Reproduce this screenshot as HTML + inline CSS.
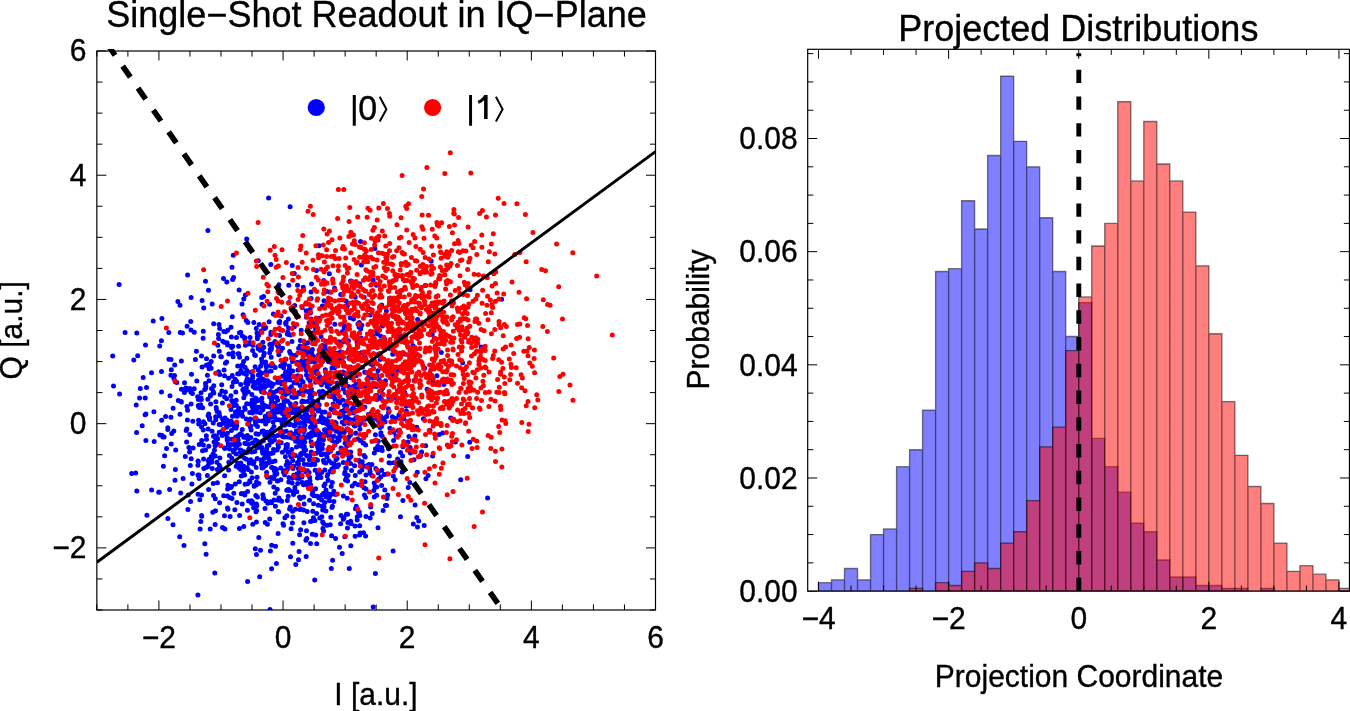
<!DOCTYPE html><html><head><meta charset="utf-8"><style>html,body{margin:0;padding:0;background:#fff;}svg{display:block;will-change:transform}text{font-family:"Liberation Sans",sans-serif;fill:#000;stroke:#000;stroke-width:0.35px}</style></head><body><svg width="1350" height="711" viewBox="0 0 1350 711"><rect width="1350" height="711" fill="#fff"/><defs><clipPath id="cl"><rect x="96.85" y="51.0" width="558.65" height="559.0"/></clipPath><clipPath id="cr"><rect x="807.7" y="49.3" width="541.75" height="541.85"/></clipPath><clipPath id="cd"><rect x="96.85" y="49.1" width="558.65" height="560.9"/></clipPath></defs><g clip-path="url(#cl)"><path d="M218.6 338.6h0M303.8 417.0h0M347.0 406.3h0M214.8 573.0h0M298.3 441.9h0M335.6 373.9h0M242.6 416.2h0M213.2 483.6h0M282.9 363.2h0M240.2 434.1h0M396.1 435.9h0M314.5 362.3h0M253.1 386.5h0M189.8 434.6h0M299.7 409.6h0M351.2 377.8h0M287.9 466.5h0M232.0 267.2h0M213.2 453.7h0M347.1 310.1h0M355.4 369.8h0M326.0 349.9h0M347.9 522.4h0M318.0 411.1h0M267.3 463.3h0M222.7 430.6h0M289.4 368.8h0M256.8 505.7h0M234.3 444.4h0M254.6 354.8h0M389.2 348.4h0M281.1 431.2h0M353.5 319.1h0M263.4 440.8h0M277.7 382.4h0M267.6 380.7h0M285.7 376.2h0M163.4 466.2h0M300.8 443.2h0M262.0 304.3h0M175.7 450.0h0M277.3 481.0h0M322.9 528.6h0M282.9 382.3h0M377.5 334.1h0M204.8 543.8h0M307.4 410.1h0M390.0 463.0h0M206.3 435.8h0M304.0 401.6h0M256.2 407.0h0M381.2 398.8h0M188.2 495.1h0M318.8 354.4h0M256.8 410.2h0M311.1 375.7h0M298.5 559.7h0M286.6 377.5h0M250.2 403.8h0M317.8 401.0h0M312.8 355.8h0M238.8 374.1h0M161.9 318.5h0M231.6 347.5h0M246.2 452.8h0M321.5 384.8h0M247.5 452.2h0M210.5 395.0h0M240.7 384.4h0M232.7 346.2h0M283.2 432.0h0M131.7 473.6h0M372.8 335.9h0M261.5 359.0h0M295.6 441.3h0M258.1 420.7h0M320.9 477.4h0M369.0 401.5h0M353.9 403.9h0M243.8 298.9h0M331.0 356.9h0M315.1 426.3h0M306.2 310.8h0M346.8 401.6h0M265.7 423.4h0M311.5 422.6h0M264.0 385.3h0M364.1 455.6h0M239.4 528.6h0M264.1 380.7h0M258.0 399.7h0M333.7 467.8h0M135.7 473.1h0M219.6 415.9h0M221.9 390.9h0M333.2 404.0h0M168.8 332.5h0M248.2 469.6h0M260.4 447.4h0M256.0 433.8h0M337.1 357.9h0M323.0 422.8h0M293.1 491.6h0M389.9 428.2h0M324.8 502.4h0M259.5 383.8h0M206.5 358.7h0M267.0 455.6h0M347.0 428.9h0M333.0 424.0h0M332.0 367.9h0M209.1 368.8h0M245.3 394.2h0M283.3 365.3h0M230.8 487.5h0M254.1 486.2h0M337.3 466.7h0M380.0 427.6h0M248.7 444.4h0M278.8 354.7h0M287.3 446.8h0M278.2 500.2h0M355.9 433.2h0M318.3 435.6h0M307.2 511.4h0M290.3 507.1h0M319.7 452.1h0M215.6 416.8h0M349.3 568.5h0M346.2 478.3h0M347.1 451.8h0M321.7 437.5h0M267.3 419.7h0M296.3 431.0h0M276.3 419.4h0M187.9 509.4h0M382.2 450.4h0M292.7 371.0h0M212.8 512.2h0M309.9 406.8h0M409.8 482.4h0M328.4 361.4h0M283.1 423.3h0M310.6 521.6h0M213.7 323.7h0M244.9 443.3h0M228.6 470.1h0M377.8 420.3h0M243.5 373.3h0M254.2 485.6h0M258.7 335.2h0M193.1 448.1h0M244.7 394.1h0M341.0 448.1h0M252.8 524.2h0M327.0 457.1h0M330.2 524.7h0M261.6 448.3h0M314.4 406.6h0M389.4 455.9h0M322.1 505.9h0M264.6 387.6h0M300.7 455.0h0M294.4 425.1h0M376.5 285.2h0M252.8 345.2h0M304.9 409.1h0M283.3 394.6h0M301.6 389.6h0M246.9 370.6h0M323.4 493.4h0M277.3 489.3h0M236.4 424.6h0M382.2 436.3h0M271.6 545.2h0M349.0 444.7h0M312.8 400.9h0M303.1 470.0h0M310.5 543.4h0M305.9 361.0h0M294.3 426.0h0M328.4 421.7h0M341.2 411.5h0M271.2 357.2h0M406.1 406.1h0M322.4 306.1h0M293.4 412.6h0M455.4 442.0h0M187.1 326.3h0M239.3 481.7h0M363.1 386.1h0M232.9 352.8h0M252.2 381.3h0M238.7 408.3h0M275.8 397.3h0M311.3 436.3h0M338.9 345.1h0M198.7 423.9h0M288.4 319.0h0M213.5 495.6h0M306.0 391.3h0M344.2 432.5h0M243.8 526.4h0M342.2 553.4h0M198.5 406.2h0M345.6 379.8h0M393.7 432.2h0M275.1 468.4h0M379.2 379.5h0M262.5 410.1h0M280.3 428.5h0M304.3 446.3h0M272.4 411.3h0M225.7 423.5h0M232.2 376.3h0M366.0 475.1h0M309.1 472.4h0M318.5 431.9h0M258.8 483.6h0M388.4 412.4h0M235.8 426.5h0M333.7 422.4h0M247.1 379.0h0M201.6 515.6h0M329.4 273.8h0M330.5 451.3h0M145.9 440.4h0M282.4 413.4h0M310.9 427.1h0M310.5 427.2h0M386.4 311.1h0M170.0 395.7h0M301.5 443.5h0M267.2 381.0h0M244.8 495.1h0M304.7 442.1h0M198.3 399.5h0M286.2 431.3h0M227.2 440.0h0M228.8 353.9h0M351.5 470.6h0M282.6 420.1h0M237.5 463.0h0M265.6 465.6h0M314.3 426.9h0M227.9 485.2h0M208.5 364.6h0M269.8 344.4h0M315.7 535.1h0M304.4 430.2h0M243.5 470.9h0M262.1 432.2h0M270.3 349.3h0M222.9 419.4h0M304.6 483.8h0M381.4 426.5h0M337.1 382.9h0M382.6 394.5h0M238.3 414.0h0M187.6 274.9h0M436.9 375.8h0M309.3 421.0h0M357.2 519.9h0M347.6 454.5h0M275.0 460.9h0M302.0 476.9h0M244.9 452.1h0M171.7 433.5h0M319.6 376.5h0M280.7 410.7h0M300.0 345.9h0M354.2 425.6h0M346.8 421.5h0M192.8 421.2h0M327.8 424.7h0M298.6 348.2h0M289.4 490.6h0M285.5 400.5h0M271.6 435.0h0M357.6 339.4h0M309.7 455.9h0M258.5 407.6h0M319.4 439.2h0M198.6 420.3h0M379.8 422.0h0M262.9 494.7h0M271.5 347.8h0M235.8 392.0h0M239.4 332.7h0M188.9 447.5h0M269.7 352.7h0M231.4 430.5h0M198.3 405.4h0M269.7 519.1h0M305.9 437.4h0M308.4 378.6h0M292.2 483.1h0M273.9 414.6h0M312.8 511.2h0M268.1 421.0h0M292.7 460.6h0M322.7 391.3h0M178.3 400.6h0M394.0 378.3h0M284.6 425.3h0M258.3 260.7h0M346.9 410.0h0M291.2 456.9h0M231.3 421.3h0M224.6 423.3h0M270.3 501.7h0M190.7 321.6h0M246.7 239.0h0M310.5 417.3h0M119.6 394.1h0M277.7 480.9h0M161.4 340.8h0M254.8 402.2h0M265.9 371.6h0M327.2 386.6h0M224.5 515.7h0M310.2 380.3h0M312.4 349.4h0M306.0 419.1h0M310.0 380.7h0M264.3 353.2h0M394.6 418.8h0M246.4 419.0h0M380.9 416.5h0M242.5 364.8h0M281.8 383.9h0M246.3 436.5h0M425.7 445.7h0M271.6 386.4h0M339.1 343.9h0M256.2 467.4h0M167.9 518.5h0M257.4 497.0h0M358.3 404.5h0M255.4 422.2h0M354.6 465.8h0M344.6 473.8h0M180.0 305.3h0M249.4 420.5h0M168.9 359.3h0M376.1 317.5h0M299.6 497.1h0M318.0 444.4h0M375.4 434.8h0M423.4 418.8h0M332.0 507.5h0M299.8 509.5h0M312.3 534.3h0M325.4 382.6h0M350.9 392.8h0M346.9 406.5h0M347.3 498.2h0M414.9 436.1h0M372.7 378.0h0M247.0 467.7h0M210.4 395.9h0M337.3 430.8h0M412.8 355.0h0M377.8 446.3h0M256.4 504.1h0M283.6 431.9h0M324.8 469.9h0M311.1 464.8h0M202.5 450.8h0M296.9 382.9h0M196.8 381.1h0M231.9 439.2h0M397.9 369.2h0M318.1 379.2h0M253.5 463.9h0M387.6 495.0h0M201.5 495.1h0M298.0 412.2h0M309.5 500.2h0M381.8 447.4h0M233.8 493.2h0M279.5 419.9h0M249.7 412.4h0M333.8 491.2h0M260.9 460.0h0M241.6 434.5h0M204.9 423.8h0M321.1 336.4h0M350.1 395.3h0M250.7 459.8h0M242.2 470.4h0M291.4 386.7h0M227.7 330.2h0M365.6 536.1h0M242.3 336.1h0M315.1 470.2h0M337.7 391.0h0M348.0 441.5h0M324.0 506.8h0M420.7 455.4h0M287.5 393.5h0M257.3 407.8h0M219.3 351.2h0M371.4 413.1h0M248.6 501.1h0M348.8 357.7h0M349.5 397.5h0M260.7 441.9h0M298.2 464.0h0M379.9 397.7h0M245.4 294.9h0M215.5 510.8h0M364.2 297.3h0M309.1 486.2h0M285.4 373.4h0M256.2 328.6h0M343.4 495.9h0M376.6 487.1h0M207.9 230.5h0M262.1 349.4h0M481.1 346.9h0M215.8 419.7h0M325.7 463.0h0M272.4 429.2h0M314.7 464.4h0M277.2 378.7h0M277.7 400.3h0M181.4 401.9h0M212.1 458.6h0M373.2 607.1h0M340.4 351.7h0M300.7 365.7h0M357.0 342.1h0M343.2 519.2h0M278.7 512.1h0M305.3 415.7h0M414.2 380.6h0M189.8 388.4h0M337.8 389.8h0M222.1 435.4h0M351.1 391.8h0M215.3 435.8h0M312.6 459.6h0M257.5 426.4h0M276.4 563.4h0M287.3 461.6h0M345.0 472.0h0M247.0 452.4h0M245.7 382.9h0M343.9 518.0h0M293.5 494.5h0M344.0 380.6h0M341.2 412.2h0M263.6 498.1h0M249.9 481.9h0M414.0 459.7h0M213.5 436.3h0M361.1 352.8h0M355.1 536.2h0M237.3 416.3h0M255.1 366.8h0M366.5 392.5h0M246.0 437.3h0M360.1 532.9h0M329.0 460.8h0M290.1 206.8h0M219.0 324.4h0M388.3 408.7h0M347.6 481.1h0M191.1 404.1h0M244.6 393.8h0M314.9 520.4h0M298.5 464.1h0M296.9 478.3h0M355.4 367.4h0M266.3 454.6h0M246.3 436.0h0M173.1 408.2h0M256.6 419.4h0M224.3 434.3h0M223.1 423.3h0M255.8 495.5h0M267.2 406.5h0M311.2 452.0h0M215.7 440.7h0M296.4 447.0h0M329.6 389.1h0M416.8 517.4h0M285.7 377.3h0M243.5 475.2h0M334.2 464.3h0M321.8 394.8h0M286.0 324.2h0M261.6 373.3h0M208.2 465.2h0M247.6 581.4h0M284.2 381.7h0M235.4 412.1h0M377.6 412.1h0M262.1 431.2h0M368.5 377.0h0M265.6 362.1h0M287.8 401.3h0M180.0 414.2h0M383.0 318.5h0M295.8 564.5h0M427.1 389.3h0M283.6 525.2h0M358.8 410.2h0M246.4 381.4h0M361.2 338.0h0M290.5 455.8h0M263.1 348.0h0M295.9 438.2h0M396.7 398.8h0M374.8 248.6h0M136.8 333.1h0M242.8 389.7h0M268.7 434.5h0M360.5 241.6h0M375.9 395.4h0M313.0 335.1h0M430.0 430.3h0M378.0 527.7h0M374.3 496.9h0M145.9 414.1h0M322.3 345.6h0M219.2 424.4h0M201.6 427.1h0M376.2 386.5h0M276.8 473.8h0M290.6 412.8h0M316.6 513.5h0M261.9 398.2h0M266.3 437.4h0M219.6 502.8h0M331.6 463.1h0M259.1 324.5h0M328.1 378.3h0M240.6 469.5h0M253.7 383.3h0M294.6 382.8h0M327.0 525.2h0M303.2 428.5h0M316.2 459.5h0M214.5 449.9h0M313.9 416.1h0M142.2 425.7h0M275.0 341.4h0M246.9 344.2h0M381.6 389.8h0M288.7 392.7h0M286.3 446.2h0M255.5 397.9h0M361.4 264.9h0M457.8 309.4h0M273.4 313.9h0M249.2 463.3h0M418.7 521.0h0M331.6 535.8h0M303.8 366.6h0M356.1 392.5h0M272.4 344.0h0M298.3 468.6h0M361.3 422.8h0M257.9 346.5h0M315.6 422.2h0M355.9 384.0h0M419.3 303.5h0M286.7 490.2h0M203.8 468.5h0M330.8 328.8h0M256.5 388.3h0M350.8 421.4h0M253.0 443.1h0M352.6 408.2h0M191.1 297.5h0M335.1 399.3h0M204.7 389.5h0M159.3 492.3h0M258.3 375.1h0M271.1 430.9h0M229.4 455.6h0M257.4 338.7h0M398.9 414.9h0M322.5 358.5h0M307.9 456.3h0M340.2 361.6h0M373.8 490.5h0M249.4 379.9h0M298.5 392.9h0M274.4 436.4h0M143.2 377.5h0M217.8 373.1h0M184.4 392.5h0M370.0 473.2h0M275.5 546.2h0M439.2 434.6h0M331.5 409.5h0M346.3 468.1h0M283.5 472.3h0M299.5 436.6h0M293.8 397.5h0M405.4 362.0h0M151.5 372.8h0M315.9 367.2h0M303.5 484.8h0M286.1 322.3h0M350.5 366.9h0M231.8 444.6h0M328.9 384.2h0M186.8 429.1h0M309.6 352.2h0M349.2 458.6h0M227.1 438.2h0M173.8 431.1h0M328.1 452.7h0M256.4 554.5h0M329.7 427.1h0M213.8 385.8h0M325.1 346.1h0M377.2 395.4h0M252.7 412.0h0M376.7 495.3h0M281.2 442.7h0M209.6 364.3h0M322.1 495.1h0M353.1 386.5h0M199.3 423.6h0M383.9 418.3h0M241.2 475.9h0M290.4 334.9h0M326.6 454.0h0M209.0 380.8h0M211.1 368.3h0M286.1 445.0h0M413.3 524.1h0M323.4 460.4h0M267.3 477.2h0M325.9 379.7h0M226.6 361.9h0M271.7 398.3h0M375.8 468.4h0M331.0 409.0h0M410.2 358.8h0M201.7 440.5h0M363.9 466.0h0M359.7 471.9h0M234.8 509.8h0M278.5 346.9h0M299.8 408.6h0M303.9 522.8h0M240.8 463.1h0M286.3 450.0h0M327.8 382.4h0M273.2 384.3h0M290.5 556.8h0M260.5 550.2h0M338.0 453.2h0M279.4 322.9h0M296.0 355.2h0M171.3 369.8h0M161.5 391.9h0M245.2 409.3h0M410.1 447.5h0M269.7 396.7h0M329.2 416.0h0M279.5 410.9h0M289.4 366.1h0M284.6 474.7h0M307.4 329.7h0M294.4 326.8h0M329.0 428.2h0M269.5 462.1h0M340.4 436.5h0M359.3 512.0h0M254.9 418.5h0M269.8 440.0h0M374.3 386.1h0M370.0 471.3h0M304.1 504.0h0M341.8 332.2h0M231.9 458.2h0M246.4 374.6h0M318.3 505.2h0M339.6 433.3h0M154.2 441.4h0M252.6 350.4h0M321.9 397.1h0M212.2 303.9h0M265.2 522.4h0M254.0 461.8h0M228.3 444.9h0M258.2 370.1h0M223.7 495.7h0M292.8 543.2h0M133.8 360.1h0M400.5 516.8h0M303.8 447.6h0M158.7 492.2h0M312.2 423.1h0M313.3 489.7h0M201.0 398.0h0M336.0 425.8h0M372.4 414.2h0M393.6 440.4h0M217.4 469.4h0M359.0 327.1h0M240.9 370.6h0M310.6 484.7h0M244.7 339.0h0M145.2 398.1h0M300.5 446.0h0M378.2 449.8h0M300.8 376.5h0M145.1 414.8h0M248.9 344.0h0M313.0 453.6h0M271.6 502.7h0M487.6 498.0h0M137.7 355.7h0M254.8 451.5h0M294.7 305.6h0M262.7 453.2h0M359.5 425.1h0M186.6 442.0h0M278.9 497.9h0M274.5 440.1h0M322.5 419.5h0M215.9 401.8h0M265.3 452.0h0M345.3 392.4h0M213.7 356.1h0M247.4 510.2h0M321.7 434.5h0M266.7 433.0h0M370.8 364.1h0M227.5 496.0h0M398.3 430.6h0M311.2 319.1h0M304.0 449.1h0M186.9 406.4h0M207.6 466.8h0M319.3 420.4h0M356.2 375.8h0M299.9 423.2h0M299.1 477.8h0M210.2 528.9h0M310.0 361.7h0M295.6 407.9h0M325.7 419.8h0M336.9 429.2h0M260.3 412.8h0M375.0 486.6h0M197.7 396.8h0M324.0 462.3h0M200.8 521.6h0M364.0 487.8h0M279.5 499.2h0M356.1 410.6h0M303.8 496.9h0M238.0 444.3h0M252.3 501.6h0M410.4 453.0h0M258.8 537.4h0M435.4 306.4h0M343.7 366.0h0M201.3 399.4h0M252.5 378.2h0M199.8 499.7h0M308.6 434.4h0M208.6 489.6h0M283.5 404.9h0M310.4 359.4h0M333.9 436.2h0M245.9 437.5h0M348.1 461.4h0M307.4 470.7h0M215.3 498.7h0M371.9 475.4h0M301.8 402.1h0M350.5 372.8h0M251.1 372.2h0M269.5 407.0h0M333.9 501.5h0M342.2 373.7h0M289.0 477.4h0M228.6 378.2h0M312.1 333.1h0M388.6 448.7h0M261.0 406.7h0M288.0 452.3h0M384.2 474.5h0M271.8 400.5h0M220.8 356.7h0M224.1 369.9h0M244.9 337.7h0M322.3 448.8h0M308.1 421.1h0M151.6 489.9h0M256.7 411.9h0M265.0 508.6h0M227.6 438.3h0M433.1 381.3h0M369.0 464.5h0M383.0 386.9h0M246.4 459.3h0M330.1 471.3h0M295.4 455.6h0M330.2 383.7h0M363.1 443.1h0M184.5 382.7h0M393.1 551.0h0M293.4 434.9h0M355.6 433.3h0M173.9 378.6h0M323.7 280.6h0M207.4 375.2h0M345.1 418.2h0M375.5 448.7h0M248.7 424.2h0M205.7 388.2h0M343.0 414.9h0M293.7 475.2h0M301.9 452.9h0M288.5 327.9h0M366.2 361.7h0M302.4 400.9h0M257.2 400.8h0M263.8 347.3h0M303.6 453.2h0M164.6 455.8h0M255.2 383.4h0M162.2 435.6h0M248.3 391.7h0M303.7 437.0h0M212.3 468.6h0M366.0 489.1h0M327.2 476.1h0M387.0 473.9h0M289.6 509.0h0M320.4 447.5h0M227.4 433.3h0M279.7 321.6h0M318.8 497.8h0M267.3 445.8h0M295.4 509.2h0M268.4 462.9h0M319.4 475.2h0M255.5 440.0h0M341.6 357.3h0M381.6 485.4h0M224.6 475.7h0M306.3 482.4h0M298.0 369.9h0M247.9 384.0h0M388.9 397.3h0M314.7 580.0h0M380.9 432.8h0M300.6 453.9h0M347.7 393.6h0M275.2 493.2h0M332.3 482.4h0M254.9 388.0h0M263.1 498.6h0M343.3 462.5h0M417.6 319.6h0M335.0 444.6h0M273.2 477.8h0M203.4 444.9h0M232.4 416.2h0M285.7 448.9h0M271.3 453.4h0M306.5 350.9h0M310.2 309.5h0M260.3 387.6h0M311.1 396.0h0M169.6 489.4h0M278.2 511.6h0M287.3 500.6h0M250.7 426.1h0M303.7 432.2h0M187.6 410.3h0M290.9 405.9h0M227.5 507.9h0M291.8 449.6h0M417.5 526.9h0M248.1 439.3h0M269.1 321.7h0M501.6 299.3h0M305.9 540.3h0M321.6 500.1h0M327.3 352.0h0M314.4 430.7h0M246.8 436.1h0M311.2 433.0h0M292.4 522.9h0M198.3 461.6h0M207.8 399.2h0M311.5 284.0h0M293.3 391.4h0M402.9 500.6h0M216.9 462.3h0M203.6 459.1h0M306.9 414.7h0M343.4 389.1h0M290.2 403.8h0M261.6 391.8h0M338.2 401.3h0M309.5 392.7h0M270.5 344.3h0M262.0 362.5h0M274.6 403.4h0M233.5 452.0h0M287.4 334.3h0M334.5 352.7h0M266.6 472.5h0M238.1 353.8h0M222.8 341.3h0M370.2 517.9h0M268.2 453.1h0M392.8 316.0h0M330.8 362.3h0M273.8 392.6h0M240.7 456.2h0M419.0 336.7h0M194.2 388.8h0M217.6 438.8h0M402.8 322.8h0M187.4 420.0h0M136.6 432.5h0M267.2 432.3h0M265.7 327.6h0M256.1 485.0h0M262.4 451.3h0M392.4 416.7h0M329.5 500.8h0M288.5 414.2h0M227.9 509.2h0M164.1 437.0h0M290.6 424.2h0M300.1 385.6h0M267.4 524.2h0M378.0 370.8h0M261.5 464.4h0M224.9 529.1h0M350.5 463.6h0M315.6 382.3h0M325.9 511.1h0M180.7 493.1h0M202.6 407.8h0M257.0 447.7h0M226.6 398.8h0M283.6 436.4h0M293.3 434.4h0M308.5 418.4h0M357.3 516.7h0M329.0 498.0h0M318.2 448.9h0M292.0 341.5h0M332.5 472.1h0M378.8 479.0h0M231.3 346.2h0M274.3 407.2h0M245.2 367.6h0M336.4 376.8h0M285.8 417.8h0M441.3 352.5h0M125.1 332.5h0M219.7 328.6h0M233.8 405.7h0M165.6 416.6h0M365.6 386.2h0M176.8 382.5h0M281.1 316.0h0M140.3 388.4h0M259.8 444.5h0M341.2 414.8h0M203.7 308.0h0M344.2 327.9h0M345.9 326.1h0M362.2 461.8h0M406.4 410.9h0M146.9 515.3h0M334.5 411.8h0M299.6 534.7h0M359.5 283.8h0M325.9 392.9h0M232.6 279.5h0M276.8 390.9h0M233.4 382.2h0M224.5 375.8h0M343.1 341.8h0M264.6 405.4h0M145.5 345.0h0M213.2 423.1h0M245.4 345.3h0M386.6 505.5h0M319.2 404.8h0M283.7 368.0h0M233.1 356.7h0M321.8 516.8h0M269.0 416.0h0M319.8 518.0h0M316.4 373.4h0M187.9 388.8h0M337.1 458.4h0M295.8 403.4h0M198.0 494.2h0M367.3 398.9h0M247.8 342.9h0M355.8 418.0h0M318.9 245.7h0M385.4 505.6h0M311.9 445.7h0M186.4 390.0h0M322.0 412.2h0M237.4 445.5h0M215.2 456.0h0M243.8 397.8h0M326.0 490.0h0M365.2 457.1h0M270.5 391.6h0M268.8 458.7h0M226.5 427.3h0M246.7 403.7h0M408.9 436.6h0M205.8 386.2h0M290.0 373.0h0M270.0 609.5h0M390.4 331.2h0M257.0 440.9h0M424.7 368.3h0M301.2 441.7h0M313.5 404.6h0M336.1 431.2h0M181.4 389.2h0M271.2 383.3h0M270.4 371.0h0M236.2 400.2h0M348.7 437.2h0M252.8 408.4h0M241.3 493.8h0M332.6 560.3h0M136.8 491.0h0M276.8 397.7h0M337.3 353.3h0M283.3 389.6h0M268.4 457.7h0M312.6 491.9h0M341.4 384.6h0M307.8 366.2h0M201.7 516.3h0M360.0 418.2h0M391.9 375.7h0M404.5 353.9h0M211.5 461.6h0M306.4 317.2h0M280.8 405.3h0M335.1 289.9h0M278.1 533.6h0M318.1 408.4h0M263.7 326.8h0M359.8 515.4h0M265.2 419.0h0M321.7 378.6h0M349.8 376.4h0M266.4 366.9h0M181.4 361.1h0M469.7 442.2h0M300.4 498.5h0M272.5 430.3h0M190.3 465.6h0M282.1 419.7h0M277.3 410.5h0M421.6 452.0h0M368.2 418.2h0M314.1 414.9h0M356.3 506.2h0M273.0 453.1h0M383.1 510.4h0M332.4 506.3h0M271.2 349.6h0M424.2 525.6h0M221.7 384.8h0M302.3 482.4h0M302.4 423.2h0M350.7 452.0h0M280.8 468.0h0M313.5 333.5h0M373.0 365.6h0M250.8 437.5h0M214.0 442.1h0M284.1 402.3h0M278.7 411.9h0M261.9 447.5h0M216.2 407.6h0M228.2 443.4h0M341.3 448.7h0M313.6 503.8h0M296.2 376.7h0M257.2 458.4h0M278.9 284.8h0M197.9 595.0h0M224.2 342.2h0M402.1 472.0h0M201.5 356.0h0M275.0 475.3h0M373.1 280.0h0M288.0 489.6h0M365.6 445.0h0M294.9 487.6h0M377.1 375.4h0M333.3 429.1h0M302.4 389.9h0M329.8 496.1h0M273.8 487.1h0M339.3 341.8h0M263.0 409.0h0M297.8 375.8h0M333.4 357.3h0M316.2 340.1h0M266.4 434.2h0M390.9 397.9h0M282.5 348.2h0M317.1 368.9h0M241.9 412.3h0M212.3 388.9h0M250.3 427.1h0M306.3 370.5h0M307.5 401.4h0M226.8 281.9h0M186.2 430.4h0M386.6 416.6h0M249.7 249.2h0M231.0 327.3h0M318.5 435.6h0M272.2 467.6h0M219.2 413.2h0M316.3 453.2h0M251.7 503.3h0M199.1 478.4h0M277.3 345.6h0M320.4 354.0h0M348.9 423.3h0M344.1 424.1h0M303.6 510.1h0M333.7 395.9h0M320.5 395.0h0M408.2 487.4h0M175.4 469.4h0M353.7 361.3h0M376.3 331.1h0M232.3 375.5h0M358.2 365.9h0M467.7 456.6h0M285.8 390.7h0M285.4 456.7h0M306.5 530.7h0M159.7 346.1h0M260.2 350.3h0M337.8 437.7h0M364.5 495.0h0M200.7 404.7h0M300.4 439.6h0M289.5 391.5h0M161.5 371.4h0M358.5 511.9h0M380.8 435.0h0M284.4 419.9h0M339.7 403.1h0M325.0 434.5h0M280.6 366.0h0M203.5 421.8h0M282.4 452.3h0M359.3 322.6h0M385.5 380.8h0M290.5 353.5h0M443.9 384.6h0M112.7 356.0h0M364.7 372.2h0M255.2 421.1h0M338.6 464.8h0M393.7 396.8h0M325.0 484.1h0M272.3 461.7h0M305.0 418.4h0M359.9 429.2h0M346.2 375.7h0M203.2 429.9h0M361.9 325.3h0M289.8 380.0h0M470.1 289.7h0M312.1 432.2h0M240.7 449.9h0M247.6 483.7h0M380.7 476.9h0M384.8 490.1h0M223.9 331.6h0M245.5 443.4h0M303.3 287.2h0M173.0 524.7h0M304.4 415.4h0M232.9 402.1h0M276.8 412.0h0M334.4 412.4h0M256.1 411.0h0M397.4 465.4h0M288.2 496.2h0M280.8 330.1h0M208.1 415.7h0M312.9 520.8h0M208.8 446.3h0M343.5 453.0h0M431.2 261.1h0M315.6 488.8h0M224.4 448.1h0M205.5 383.4h0M305.0 390.7h0M381.9 419.2h0M279.4 389.1h0M300.4 340.4h0M309.9 480.7h0M395.1 479.7h0M252.5 413.1h0M351.2 523.7h0M347.4 305.7h0M241.5 493.6h0M311.8 376.4h0M297.5 285.3h0M320.8 347.3h0M179.7 536.7h0M243.8 437.3h0M227.1 342.7h0M334.2 387.9h0M218.6 371.8h0M361.3 484.7h0M364.8 419.3h0M225.5 331.7h0M355.6 410.5h0M432.2 334.5h0M328.1 493.7h0M309.3 437.3h0M219.0 412.4h0M299.2 478.6h0M350.5 435.0h0M250.0 342.4h0M221.4 356.7h0M298.6 392.5h0M315.7 434.3h0M261.4 331.0h0M202.1 367.0h0M302.4 365.4h0M270.9 477.6h0M282.6 436.5h0M324.0 300.7h0M293.5 493.4h0M239.4 444.2h0M287.7 375.9h0M359.1 460.6h0M275.2 367.5h0M304.8 343.9h0M317.4 478.1h0M198.0 461.1h0M266.6 435.2h0M175.3 381.7h0M287.4 413.7h0M271.9 441.8h0M260.5 441.9h0M235.3 484.0h0M365.0 481.8h0M296.7 491.7h0M272.5 394.8h0M236.1 454.1h0M235.1 443.7h0M287.7 332.0h0M307.7 485.5h0M289.2 437.3h0M353.7 419.8h0M320.6 421.6h0M119.1 284.4h0M212.1 431.3h0M353.6 413.1h0M341.7 359.2h0M372.2 345.2h0M309.7 477.5h0M330.8 517.3h0M220.1 394.4h0M389.0 462.8h0M396.1 373.2h0M283.0 523.8h0M234.6 424.0h0M294.8 412.5h0M315.6 329.3h0M284.6 416.1h0M248.7 449.2h0M273.1 422.0h0M265.6 463.6h0M243.6 361.4h0M311.4 389.2h0M345.1 443.3h0M270.8 334.4h0M380.8 336.2h0M294.0 382.5h0M341.1 515.5h0M313.6 463.4h0M256.0 511.8h0M344.9 450.2h0M346.2 301.2h0M355.0 403.8h0M336.1 423.2h0M231.5 486.5h0M303.0 459.8h0M340.6 523.8h0M253.2 411.8h0M316.1 443.8h0M255.6 424.5h0M312.2 494.5h0M275.4 506.2h0M183.1 478.4h0M305.5 412.5h0M287.9 371.4h0M305.7 450.1h0M346.7 446.1h0M181.2 401.6h0M324.3 380.3h0M278.4 446.9h0M378.1 472.8h0M417.3 472.3h0M331.1 396.6h0M243.8 466.2h0M297.2 362.3h0M260.6 366.2h0M345.7 467.9h0M294.3 273.4h0M219.7 374.6h0M308.0 378.0h0M216.3 436.0h0M206.2 365.3h0M329.2 378.1h0M312.7 393.3h0M235.0 415.7h0M281.6 501.2h0M295.9 420.7h0M334.8 398.6h0M328.9 433.4h0M323.7 454.0h0M240.2 452.0h0M462.6 362.8h0M303.9 430.4h0M227.6 489.1h0M292.3 265.6h0M331.4 436.8h0M396.4 277.4h0M296.7 476.5h0M251.4 500.8h0M224.6 397.0h0M340.0 372.5h0M364.2 401.1h0M246.2 320.6h0M252.1 477.8h0M266.0 501.0h0M286.2 465.0h0M319.3 391.7h0M235.7 437.1h0M270.8 264.4h0M236.5 337.5h0M326.3 373.2h0M292.4 361.4h0M278.5 345.3h0M259.7 576.7h0M234.3 427.4h0M177.9 301.4h0M234.2 449.8h0M304.3 464.2h0M289.0 302.6h0M297.0 417.1h0M231.4 337.0h0M136.2 405.0h0M244.7 407.6h0M213.4 391.9h0M247.8 322.6h0M355.5 508.7h0M412.8 345.4h0M279.4 410.9h0M374.8 418.3h0M297.7 483.5h0M282.6 376.3h0M360.3 440.6h0M334.4 367.9h0M328.1 480.2h0M203.1 338.3h0M260.0 375.4h0M400.4 335.2h0M254.7 411.4h0M153.9 411.8h0M252.3 442.9h0M376.9 399.5h0M306.5 375.0h0M225.0 418.0h0M449.9 446.2h0M302.2 307.4h0M349.0 430.3h0M284.9 517.8h0M243.5 451.6h0M198.0 474.9h0M161.6 420.3h0M324.9 411.9h0M348.6 386.6h0M343.5 362.4h0M298.2 433.6h0M317.5 460.2h0M345.3 410.9h0M392.6 370.6h0M316.4 324.9h0M274.7 417.0h0M335.1 424.5h0M339.5 547.3h0M284.0 437.1h0M381.7 305.1h0M322.6 361.4h0M344.9 307.3h0M299.2 457.5h0M207.4 475.4h0M370.1 315.1h0M313.4 517.7h0M229.9 425.0h0M219.3 465.3h0M311.3 338.7h0M262.1 402.3h0M271.1 371.1h0M215.1 524.5h0M223.5 278.5h0M351.1 422.7h0M371.9 464.6h0M302.2 438.0h0M288.8 482.1h0M162.9 437.1h0M290.4 375.8h0M329.2 435.9h0M244.0 493.4h0M393.3 476.0h0M260.8 389.6h0M211.3 456.6h0M360.2 462.5h0M264.4 392.5h0M275.6 449.9h0M209.6 419.6h0M262.1 468.1h0M232.0 386.6h0M239.6 515.6h0M323.5 418.5h0M364.8 407.0h0M290.7 432.7h0M268.3 413.7h0M300.6 529.7h0M265.6 424.0h0M298.4 475.4h0M367.6 396.0h0M209.1 459.2h0M243.6 390.8h0M262.6 379.1h0M343.7 410.4h0M175.0 480.2h0M287.1 415.8h0M198.9 475.1h0M287.4 469.2h0M255.4 355.4h0M202.1 300.6h0M377.8 354.5h0M317.5 446.8h0M416.7 427.3h0M146.5 387.4h0M244.6 475.1h0M289.2 424.4h0M277.2 449.9h0M352.2 486.0h0M252.7 375.9h0M307.7 330.5h0M227.6 345.0h0M270.0 482.2h0M305.9 471.8h0M398.9 335.7h0M312.8 432.0h0M307.1 314.5h0M282.7 411.4h0M316.7 543.8h0M340.7 294.4h0M324.5 429.8h0M268.9 445.2h0M296.3 397.0h0M253.6 507.7h0M306.5 316.0h0M197.9 465.2h0M311.6 402.7h0M342.9 371.9h0M362.6 367.3h0M237.7 373.7h0M262.2 380.3h0M257.1 477.2h0M299.4 460.0h0M344.2 372.7h0M260.9 388.8h0M314.7 434.8h0M374.2 482.9h0M243.1 314.7h0M235.2 379.3h0M232.3 316.8h0M286.0 359.3h0M351.4 376.6h0M276.0 473.3h0M113.5 386.1h0M326.7 424.0h0M394.0 462.7h0M227.1 420.1h0M289.6 351.5h0M370.7 506.9h0M217.1 411.5h0M404.7 392.4h0M342.5 324.0h0M284.3 418.1h0M348.7 349.4h0M300.5 508.7h0M321.8 412.0h0M384.8 346.0h0M387.0 498.5h0M170.9 375.3h0M240.6 366.1h0M333.6 410.0h0M269.4 438.4h0M167.8 429.4h0M273.9 426.5h0M317.6 473.5h0M270.9 332.2h0M285.0 393.3h0M215.1 445.8h0M290.2 424.4h0M274.0 499.9h0M269.6 304.3h0M385.1 421.7h0M292.9 468.5h0M264.8 328.4h0M365.6 435.2h0M374.3 453.1h0M191.9 484.0h0M353.8 388.6h0M305.8 409.5h0M251.9 451.9h0M402.6 456.0h0M274.3 470.7h0M359.7 525.8h0M262.8 342.2h0M321.5 349.6h0M312.1 357.9h0M307.7 342.8h0M321.4 454.7h0M319.2 443.1h0M224.8 448.6h0M254.8 382.4h0M336.8 441.8h0M298.9 365.1h0M311.1 441.7h0M191.5 374.2h0M325.3 369.8h0M286.8 515.8h0M184.0 545.5h0M211.5 388.6h0M392.7 354.2h0M265.2 416.2h0M211.2 361.6h0M271.7 393.5h0M291.7 376.4h0M203.3 331.2h0M291.0 409.6h0M310.1 358.6h0M328.0 493.7h0M383.9 384.9h0M167.8 427.8h0M217.4 482.8h0M267.0 434.2h0M190.9 392.2h0M218.4 334.6h0M249.8 480.7h0M261.7 462.0h0M326.8 291.6h0M233.8 425.3h0M238.6 346.2h0M240.7 467.7h0M361.9 470.0h0M190.6 501.5h0M419.8 456.6h0M230.1 516.5h0M293.4 355.5h0M228.5 421.6h0M331.8 469.0h0M432.6 455.9h0M273.7 478.4h0M191.2 458.7h0M282.2 436.0h0M222.6 418.9h0M236.7 381.4h0M233.3 255.3h0M263.4 431.0h0M171.0 359.4h0M192.4 393.5h0M402.5 340.6h0M351.1 456.5h0M313.0 361.3h0M442.8 433.1h0M318.8 440.7h0M284.2 470.7h0M355.3 475.6h0M256.6 510.4h0M309.8 397.4h0M195.4 359.5h0M284.0 407.6h0M233.6 277.6h0M350.8 545.8h0M345.7 382.8h0M327.7 357.3h0M293.8 436.4h0M271.6 568.8h0M402.9 446.7h0M408.1 442.1h0M415.1 505.0h0M242.3 429.5h0M282.1 423.5h0M335.0 422.3h0M348.5 340.7h0M306.4 420.7h0M208.1 428.9h0M257.4 336.8h0M295.2 425.3h0M303.0 382.1h0M406.0 365.0h0M339.6 417.0h0M243.4 389.1h0M311.1 291.9h0M284.9 395.3h0M256.4 522.1h0M288.4 376.4h0M327.8 420.9h0M380.1 359.4h0M238.8 353.7h0M180.3 332.5h0M378.2 344.2h0M220.3 467.7h0M287.2 446.7h0M238.6 467.2h0M267.1 385.4h0M196.4 351.2h0M347.6 514.2h0M267.5 419.5h0M321.3 416.7h0M252.2 400.0h0M237.7 411.0h0M318.6 409.0h0M210.6 404.1h0M335.6 538.5h0M297.3 376.1h0M208.3 460.7h0M251.9 394.4h0M279.3 409.1h0M229.6 449.0h0M301.4 380.2h0M279.6 335.4h0M236.7 426.1h0M236.8 442.5h0M350.7 521.3h0M382.5 326.1h0M271.3 403.0h0M257.0 332.9h0M170.9 417.2h0M323.5 439.7h0M194.3 332.2h0M280.6 350.8h0M335.0 376.0h0M358.1 484.8h0M238.2 440.0h0M217.8 444.2h0M258.2 434.2h0M342.2 422.2h0M211.6 456.9h0M330.4 299.5h0M301.2 330.3h0M276.4 405.4h0M319.0 440.3h0M341.5 448.3h0M310.5 313.0h0M219.2 432.2h0M255.3 548.7h0M404.9 310.6h0M139.6 398.1h0M344.4 405.4h0M339.1 440.3h0M357.9 324.1h0M223.3 421.6h0M285.4 380.7h0M305.1 363.3h0M192.4 473.5h0M316.4 270.5h0M460.7 479.7h0M269.6 382.5h0M365.7 497.4h0M321.7 472.5h0M209.4 418.3h0M326.9 435.2h0M357.4 345.2h0M350.6 281.1h0M313.8 462.6h0M304.3 428.9h0M259.0 447.2h0M232.0 498.5h0M253.9 322.6h0M348.0 475.6h0M303.1 391.7h0M185.3 456.4h0M272.0 412.0h0M371.8 417.0h0M334.6 288.3h0M397.6 459.1h0M433.1 382.1h0M242.2 503.9h0M345.5 449.6h0M346.2 406.4h0M247.6 491.4h0M311.6 352.5h0M159.8 435.1h0M350.2 317.8h0M367.4 465.4h0M342.8 431.1h0M322.6 444.5h0M270.4 349.8h0M347.5 528.1h0M316.9 357.0h0M174.7 365.1h0M259.8 372.1h0M280.2 382.0h0M336.4 356.3h0M287.7 436.9h0M205.9 467.5h0M189.6 451.9h0M347.0 417.0h0M288.8 285.2h0M332.6 355.1h0M230.9 395.8h0M268.3 435.2h0M306.2 348.1h0M450.7 418.0h0M220.5 424.8h0M277.7 435.4h0M272.6 397.5h0M236.2 466.3h0M400.5 452.5h0M266.7 449.1h0M335.9 459.8h0M217.8 345.2h0M354.0 304.7h0M357.6 439.1h0M325.1 429.8h0M214.5 436.7h0M307.9 464.4h0M200.1 529.1h0M351.8 409.5h0M314.2 408.5h0M302.7 349.5h0M263.2 467.6h0M298.1 438.8h0M182.5 332.9h0M297.2 412.8h0M331.0 353.4h0M240.7 332.2h0M299.6 444.1h0M273.4 366.1h0M323.6 523.4h0M262.0 420.9h0M270.4 551.0h0M284.5 391.5h0M332.2 440.6h0M331.2 486.6h0M306.6 455.4h0M199.3 407.6h0M236.1 428.3h0M306.2 556.4h0M291.1 454.1h0M264.3 406.1h0M285.0 364.3h0M365.2 356.7h0M263.9 458.4h0M300.2 416.5h0M319.9 356.2h0M284.1 375.5h0M389.5 298.3h0M309.9 391.1h0M291.8 397.1h0M236.7 447.7h0M318.7 472.2h0M306.8 538.5h0M363.8 443.3h0M329.9 291.9h0M305.5 449.7h0M306.8 354.2h0M209.7 417.8h0M372.2 513.5h0M299.8 427.9h0M319.0 318.2h0M265.9 365.3h0M312.7 322.2h0M276.4 469.8h0M360.6 385.4h0M271.6 467.5h0M306.1 437.2h0M310.6 395.5h0M323.6 531.1h0M334.1 394.7h0M166.5 448.6h0M171.2 443.9h0M344.8 536.8h0M322.9 421.9h0M285.6 393.1h0M303.2 418.4h0M298.9 422.0h0M237.9 436.4h0M269.0 418.5h0M279.0 322.3h0M379.5 316.1h0M324.0 485.8h0M368.3 414.6h0M297.5 462.5h0M369.9 309.2h0M322.7 522.1h0M316.8 408.6h0M268.6 198.0h0M355.4 355.4h0M265.1 457.5h0M304.0 438.8h0M244.6 458.2h0M311.6 396.5h0M291.1 528.7h0M287.4 444.5h0M250.1 337.6h0M288.6 489.6h0M314.0 495.8h0M332.5 448.2h0M279.0 292.9h0M264.8 435.4h0M327.8 474.5h0M239.6 357.3h0M375.4 573.4h0M225.4 363.2h0M285.5 372.4h0M364.2 384.5h0M250.3 419.1h0M270.9 397.3h0M346.4 514.2h0M246.9 358.3h0M292.4 438.3h0M334.8 324.2h0M382.9 387.7h0M261.4 330.9h0M274.8 470.6h0M309.1 322.7h0M263.7 355.4h0M311.0 359.7h0M292.6 511.3h0M231.7 400.5h0M280.8 479.7h0M337.7 388.2h0M206.1 554.2h0M213.8 392.9h0M256.5 482.0h0M267.0 372.7h0M326.2 430.8h0M304.8 425.3h0M258.2 348.7h0M237.7 366.1h0M271.5 417.0h0M206.5 439.2h0M292.3 478.0h0M263.6 296.6h0M285.5 323.3h0M199.2 444.4h0M297.0 473.8h0M309.4 459.8h0M348.6 396.2h0M322.7 509.9h0M369.6 468.5h0M277.8 411.2h0M425.9 478.8h0M333.9 404.8h0M342.5 331.4h0M205.5 449.9h0M228.8 462.3h0M273.5 449.5h0M331.4 494.2h0M293.7 465.9h0M284.0 399.9h0M395.6 418.4h0M354.4 405.5h0M381.7 470.3h0M261.7 297.4h0M292.9 517.1h0M335.5 494.5h0M380.1 356.2h0M222.5 527.6h0M251.1 430.0h0M354.9 483.3h0M313.1 371.0h0M191.0 330.1h0M425.7 285.4h0M238.3 435.6h0M289.5 464.1h0M258.5 380.0h0M360.7 328.9h0M325.7 341.3h0M270.4 365.5h0M242.0 304.1h0M355.2 297.1h0M373.5 417.0h0M239.7 468.2h0M239.1 290.0h0M284.7 473.4h0M317.4 496.3h0M229.6 497.6h0M352.4 373.2h0M330.7 353.7h0M251.4 472.0h0M278.6 419.7h0M285.2 411.8h0M174.5 375.5h0M330.0 359.8h0M306.0 483.5h0M274.9 474.3h0M329.8 436.0h0M219.9 457.9h0M236.2 405.3h0M393.2 374.2h0M304.8 418.9h0M301.6 361.1h0M322.8 397.5h0M271.2 399.0h0M299.1 551.4h0M293.6 389.9h0M354.9 426.1h0M205.5 281.3h0M317.2 421.7h0M264.2 379.7h0M312.1 412.3h0M331.3 568.4h0M366.7 372.4h0M185.8 387.9h0M331.4 391.6h0M355.0 526.1h0M345.5 480.0h0M428.1 475.4h0M299.7 393.4h0M359.6 534.9h0M251.8 405.7h0M347.7 393.2h0M211.7 462.2h0M208.7 414.1h0M400.0 369.8h0M322.3 421.6h0M403.9 419.1h0M230.9 409.5h0M270.9 442.3h0M368.1 380.8h0M245.1 484.2h0M226.8 422.4h0M289.8 388.6h0M327.8 422.8h0M378.3 441.2h0M254.2 406.9h0M333.0 393.3h0M311.1 298.6h0M297.9 412.7h0M236.9 502.6h0M357.0 389.1h0M363.5 532.7h0M374.4 416.6h0M342.8 453.6h0M208.5 290.3h0M216.4 409.1h0M201.0 392.7h0M153.2 320.9h0M300.9 445.5h0M225.4 391.9h0M326.1 497.0h0M278.0 444.3h0M299.1 472.6h0M349.7 419.2h0M267.7 503.3h0M247.4 435.5h0M342.7 399.9h0M384.8 339.6h0M365.9 516.6h0M222.4 403.0h0M401.0 461.7h0M246.4 387.4h0" stroke="#0000ff" stroke-width="5.0" stroke-linecap="round" fill="none"/><path d="M458.7 243.6h0M387.5 319.0h0M329.3 314.8h0M403.9 416.1h0M444.1 300.9h0M331.1 292.3h0M374.6 319.3h0M335.3 426.7h0M357.3 262.2h0M433.9 321.1h0M342.1 361.9h0M371.5 284.6h0M282.8 339.9h0M461.9 259.9h0M378.8 207.9h0M468.8 304.1h0M379.2 322.0h0M306.8 316.7h0M366.1 338.2h0M367.7 261.7h0M370.7 355.5h0M424.7 304.4h0M457.4 265.5h0M402.5 395.9h0M423.7 269.5h0M316.1 318.0h0M412.3 284.4h0M302.1 475.3h0M400.3 412.3h0M437.4 225.0h0M379.5 391.3h0M462.2 347.1h0M453.0 491.6h0M413.8 451.9h0M354.1 259.6h0M347.0 463.6h0M344.2 291.8h0M407.9 304.2h0M303.7 290.3h0M385.6 277.8h0M443.6 392.4h0M328.5 381.1h0M398.4 494.4h0M394.9 275.0h0M404.3 297.1h0M375.7 375.3h0M375.1 240.9h0M396.1 318.8h0M381.4 406.7h0M324.1 272.1h0M376.7 322.9h0M385.9 257.4h0M345.6 334.6h0M438.2 392.8h0M462.2 329.7h0M329.1 447.2h0M390.0 298.5h0M366.9 279.0h0M412.7 350.2h0M371.6 374.7h0M301.7 306.6h0M361.6 386.9h0M387.8 316.0h0M333.5 471.5h0M451.7 337.7h0M492.6 358.5h0M335.6 357.8h0M426.9 167.4h0M453.8 375.1h0M285.3 412.3h0M327.5 266.9h0M438.2 364.7h0M462.8 370.7h0M447.8 268.2h0M453.9 209.4h0M491.3 243.9h0M424.0 238.3h0M413.0 356.7h0M425.0 285.6h0M423.1 252.6h0M266.9 284.2h0M339.9 345.1h0M378.4 318.7h0M361.7 480.9h0M310.3 312.1h0M393.9 298.0h0M462.7 410.3h0M367.9 324.6h0M370.1 384.8h0M572.9 400.2h0M410.1 362.5h0M175.0 381.1h0M414.0 429.4h0M288.5 303.1h0M360.7 247.0h0M468.5 342.1h0M441.4 314.0h0M293.2 358.7h0M344.5 249.0h0M336.1 405.3h0M400.1 309.7h0M438.5 327.0h0M434.5 466.3h0M391.7 385.1h0M374.9 416.2h0M317.6 298.7h0M509.3 359.0h0M291.8 467.1h0M317.8 328.3h0M458.2 311.6h0M459.7 252.6h0M363.4 280.2h0M396.4 462.6h0M475.7 346.1h0M327.8 449.6h0M352.1 282.7h0M403.2 279.5h0M377.9 278.1h0M403.2 307.1h0M433.9 421.7h0M401.9 368.7h0M408.3 385.5h0M428.5 215.3h0M312.5 412.8h0M379.2 330.4h0M464.2 378.5h0M372.0 411.3h0M386.8 369.2h0M422.9 229.3h0M319.1 321.2h0M352.3 499.9h0M369.5 492.1h0M488.1 435.4h0M460.1 420.7h0M408.6 379.9h0M337.3 494.0h0M368.9 388.3h0M234.4 439.9h0M342.8 363.3h0M341.8 299.8h0M236.4 253.0h0M363.6 437.9h0M323.6 283.7h0M465.6 318.7h0M422.1 214.9h0M337.0 361.9h0M486.4 217.0h0M421.1 289.8h0M352.9 368.3h0M301.2 333.8h0M432.0 273.6h0M390.4 298.1h0M344.5 333.8h0M389.3 304.6h0M384.8 370.9h0M322.4 360.2h0M372.4 360.6h0M453.7 213.2h0M395.2 468.3h0M407.6 366.1h0M446.9 317.1h0M368.2 352.4h0M362.7 340.2h0M293.4 376.5h0M413.1 336.5h0M374.7 295.5h0M348.8 268.1h0M276.8 342.7h0M474.0 390.2h0M429.8 432.2h0M440.6 252.1h0M450.8 445.7h0M364.6 304.0h0M412.6 388.9h0M425.0 544.7h0M420.0 273.8h0M393.3 301.4h0M363.1 289.6h0M478.9 364.4h0M420.9 265.9h0M471.2 245.3h0M367.4 334.1h0M433.7 424.6h0M310.0 327.0h0M422.5 292.8h0M416.6 270.2h0M365.2 401.1h0M274.3 246.6h0M427.4 410.1h0M417.7 322.9h0M372.9 290.6h0M412.5 325.9h0M355.6 401.8h0M435.3 438.3h0M370.3 276.7h0M403.0 352.5h0M456.5 439.8h0M400.4 357.5h0M347.6 428.8h0M502.9 368.5h0M318.5 366.5h0M396.6 319.0h0M354.5 373.6h0M382.3 231.1h0M339.6 383.4h0M367.1 467.3h0M490.4 300.0h0M350.8 252.8h0M203.6 269.7h0M319.2 470.0h0M408.0 328.2h0M438.1 309.8h0M360.1 434.5h0M466.4 366.7h0M423.9 329.7h0M504.0 203.4h0M397.7 355.2h0M460.3 318.9h0M356.1 281.6h0M400.5 356.2h0M482.4 210.6h0M353.9 288.3h0M428.7 333.7h0M425.5 434.6h0M395.9 337.1h0M550.1 305.3h0M365.4 277.8h0M532.9 232.4h0M319.6 308.8h0M343.1 246.5h0M381.8 322.7h0M409.8 355.1h0M474.2 372.9h0M408.5 203.8h0M389.3 411.2h0M448.4 366.5h0M451.2 380.3h0M432.3 394.0h0M389.3 323.4h0M452.5 433.4h0M399.6 332.2h0M314.7 378.2h0M411.0 328.3h0M448.5 446.7h0M469.2 381.7h0M461.9 341.9h0M458.6 217.5h0M384.3 286.0h0M412.2 317.9h0M442.1 361.8h0M411.2 324.8h0M296.1 378.8h0M433.6 313.0h0M353.7 374.7h0M344.6 321.3h0M445.0 382.0h0M371.4 238.2h0M434.2 330.4h0M400.6 387.1h0M510.9 364.2h0M547.6 304.5h0M338.4 391.0h0M443.1 371.8h0M440.4 311.3h0M393.6 445.9h0M412.4 439.2h0M346.5 374.1h0M360.1 286.4h0M411.4 341.6h0M478.8 323.2h0M365.8 395.5h0M392.5 257.3h0M341.1 450.6h0M463.0 318.7h0M340.4 324.2h0M416.0 333.8h0M287.5 391.3h0M258.1 222.6h0M447.5 324.2h0M384.3 438.9h0M417.8 336.3h0M385.6 314.6h0M447.3 444.9h0M489.2 391.9h0M297.6 419.6h0M377.0 342.0h0M331.1 354.7h0M449.1 254.5h0M329.7 348.5h0M320.6 365.1h0M359.9 409.8h0M347.4 401.5h0M402.0 290.2h0M374.3 398.0h0M316.8 320.5h0M482.5 511.9h0M410.7 314.2h0M461.0 339.7h0M311.8 409.9h0M339.7 346.4h0M278.9 315.3h0M474.2 340.5h0M393.1 371.0h0M384.3 405.4h0M405.9 280.5h0M367.9 208.3h0M375.8 377.9h0M437.5 303.7h0M485.1 366.9h0M361.6 343.1h0M166.4 327.9h0M392.9 280.8h0M418.6 360.8h0M386.0 307.8h0M411.3 361.6h0M399.6 430.0h0M498.7 359.7h0M349.4 396.6h0M411.7 300.1h0M348.9 395.8h0M521.6 387.7h0M354.4 315.7h0M380.9 381.7h0M429.0 259.0h0M389.5 250.8h0M499.1 324.7h0M363.5 318.3h0M268.4 286.1h0M356.8 423.1h0M474.1 526.6h0M350.3 348.2h0M474.1 274.2h0M360.9 247.6h0M397.8 322.8h0M458.1 240.5h0M353.6 352.5h0M338.9 300.3h0M418.9 303.0h0M391.8 314.2h0M392.5 381.8h0M236.6 422.1h0M390.0 432.5h0M435.4 435.8h0M500.8 409.4h0M420.3 455.3h0M400.2 419.1h0M361.3 418.6h0M411.8 337.2h0M340.5 345.1h0M426.0 270.6h0M483.8 375.3h0M483.4 276.1h0M388.0 363.9h0M294.3 476.3h0M340.9 345.0h0M355.9 369.1h0M393.0 350.5h0M361.4 407.1h0M350.8 430.9h0M444.4 401.6h0M440.8 252.5h0M468.8 340.6h0M426.3 309.6h0M381.8 297.1h0M468.7 431.3h0M348.7 367.1h0M444.2 394.0h0M365.9 358.7h0M395.1 274.3h0M570.0 384.9h0M396.2 374.5h0M528.0 355.7h0M442.7 371.8h0M434.8 302.4h0M504.4 324.6h0M220.8 445.8h0M430.9 274.3h0M357.8 312.0h0M463.2 374.4h0M335.2 258.4h0M499.7 432.6h0M366.0 291.3h0M343.5 277.1h0M421.2 375.5h0M454.5 243.7h0M331.3 340.2h0M421.2 272.5h0M354.4 308.5h0M430.7 370.0h0M408.9 360.9h0M415.6 295.5h0M407.4 345.9h0M385.5 269.6h0M391.9 309.5h0M334.2 357.4h0M398.1 297.3h0M453.4 383.5h0M354.7 338.4h0M409.8 369.1h0M437.6 397.9h0M499.0 392.6h0M336.8 308.0h0M477.2 369.7h0M410.5 420.3h0M382.0 253.3h0M311.7 358.6h0M336.7 331.2h0M434.2 368.9h0M536.7 394.7h0M370.4 340.4h0M384.7 236.0h0M408.3 264.6h0M419.3 330.7h0M468.0 319.9h0M332.6 280.2h0M465.9 392.2h0M375.1 283.4h0M415.7 475.2h0M407.2 421.4h0M482.9 381.2h0M400.8 329.5h0M343.1 280.7h0M311.1 487.5h0M372.9 259.1h0M392.2 344.3h0M472.4 407.8h0M428.6 396.1h0M326.7 404.6h0M441.1 425.5h0M445.5 382.1h0M410.9 500.3h0M487.3 277.7h0M338.3 270.5h0M336.8 342.6h0M347.4 273.0h0M432.0 303.0h0M464.3 400.2h0M447.1 425.4h0M381.2 307.6h0M372.8 347.2h0M457.2 328.0h0M362.8 297.1h0M417.5 410.8h0M323.8 228.9h0M473.3 439.2h0M374.6 244.9h0M303.8 340.9h0M334.6 301.0h0M291.4 358.1h0M485.4 392.6h0M343.6 285.9h0M343.8 340.0h0M445.8 401.8h0M403.7 441.4h0M407.1 274.4h0M342.8 352.6h0M313.9 419.9h0M403.0 391.7h0M485.2 360.5h0M364.9 351.9h0M467.2 328.1h0M324.6 308.3h0M440.0 343.8h0M403.9 373.0h0M389.7 285.0h0M453.6 455.7h0M380.5 294.4h0M278.1 300.9h0M468.1 283.6h0M408.3 496.4h0M435.1 308.0h0M385.9 369.4h0M414.4 278.7h0M401.0 237.3h0M412.5 395.8h0M480.8 368.1h0M446.9 370.6h0M404.7 334.6h0M488.0 319.7h0M279.4 378.0h0M263.3 392.6h0M377.2 363.7h0M411.5 302.1h0M358.6 303.3h0M306.0 302.7h0M516.2 367.8h0M388.7 291.5h0M356.8 396.2h0M324.5 284.2h0M346.1 336.6h0M315.2 344.1h0M413.1 234.6h0M471.5 356.0h0M335.8 341.2h0M310.4 206.2h0M440.4 267.0h0M505.6 347.0h0M366.7 314.8h0M348.9 289.7h0M322.2 534.8h0M440.7 335.2h0M490.9 399.3h0M491.2 437.2h0M275.1 329.3h0M438.8 392.7h0M406.6 414.2h0M295.3 311.3h0M350.3 432.5h0M330.3 299.5h0M371.5 340.0h0M368.6 415.2h0M420.0 313.9h0M409.1 413.9h0M488.9 406.6h0M300.9 246.0h0M415.0 347.4h0M303.0 395.0h0M359.5 385.0h0M336.5 413.0h0M429.3 377.5h0M372.8 342.6h0M446.6 265.1h0M320.0 382.8h0M394.2 378.4h0M439.6 275.5h0M223.3 429.2h0M322.2 255.7h0M269.6 414.4h0M482.1 303.3h0M376.0 439.9h0M353.4 235.0h0M432.3 229.2h0M562.5 318.9h0M354.9 411.8h0M341.1 306.5h0M380.2 386.5h0M453.3 331.2h0M435.4 284.7h0M372.5 359.2h0M492.6 307.6h0M372.2 309.9h0M358.2 391.1h0M405.9 413.1h0M386.4 401.6h0M316.5 325.4h0M519.0 292.3h0M469.9 258.8h0M395.5 394.5h0M417.0 310.8h0M321.0 346.2h0M365.0 352.8h0M532.3 366.2h0M346.2 366.5h0M353.0 395.7h0M337.7 394.0h0M494.8 254.0h0M359.6 257.2h0M294.6 404.9h0M332.9 265.8h0M350.6 403.2h0M346.3 310.0h0M437.6 343.8h0M465.6 422.7h0M412.3 323.8h0M375.2 399.0h0M285.3 387.0h0M406.1 363.3h0M373.5 398.6h0M529.3 347.4h0M463.3 399.0h0M440.4 302.0h0M364.9 424.4h0M346.7 352.5h0M517.5 383.3h0M446.5 283.7h0M404.5 280.7h0M354.2 353.3h0M346.8 288.4h0M437.3 422.4h0M394.6 309.2h0M378.0 411.8h0M412.4 363.2h0M370.2 370.5h0M406.2 340.7h0M278.4 265.9h0M406.4 309.1h0M373.1 409.6h0M396.6 379.0h0M322.8 378.5h0M390.2 368.4h0M422.2 298.1h0M421.7 196.5h0M493.7 273.8h0M423.6 368.4h0M410.9 351.2h0M474.7 341.5h0M302.2 262.3h0M412.3 400.5h0M335.5 250.4h0M341.7 283.7h0M401.9 399.1h0M380.2 289.4h0M301.5 437.5h0M453.5 420.2h0M451.6 250.4h0M332.7 363.7h0M403.5 404.0h0M373.1 340.7h0M469.3 403.9h0M350.8 352.7h0M302.8 235.4h0M334.7 289.8h0M388.3 290.7h0M379.2 285.2h0M352.5 244.0h0M381.9 387.9h0M303.4 356.4h0M393.8 256.5h0M314.4 289.3h0M310.2 488.4h0M402.0 409.7h0M367.0 270.8h0M368.7 279.4h0M378.9 419.9h0M397.9 397.9h0M315.9 245.7h0M345.4 385.8h0M310.6 371.1h0M429.5 350.9h0M451.6 361.0h0M461.9 445.1h0M411.4 460.3h0M316.6 291.5h0M396.2 445.9h0M390.3 377.9h0M494.7 351.1h0M324.7 281.4h0M407.3 354.7h0M269.1 393.9h0M412.3 386.2h0M447.3 378.9h0M432.0 412.0h0M285.1 359.1h0M358.2 365.4h0M316.9 381.6h0M392.2 361.5h0M293.3 334.2h0M417.5 354.5h0M495.8 272.1h0M319.1 360.7h0M490.8 448.4h0M259.7 345.1h0M477.8 343.3h0M342.0 429.1h0M404.1 367.7h0M357.2 369.2h0M399.5 385.3h0M479.6 213.6h0M393.9 395.3h0M437.8 302.0h0M383.6 345.0h0M411.0 460.6h0M312.9 260.2h0M384.9 345.1h0M429.9 347.8h0M460.0 275.7h0M300.0 376.3h0M310.2 386.4h0M282.8 330.4h0M496.8 392.3h0M436.1 297.1h0M363.9 344.0h0M328.2 301.0h0M414.2 353.0h0M275.0 255.3h0M329.0 396.3h0M358.4 353.6h0M373.9 324.0h0M519.6 337.2h0M409.5 422.7h0M449.4 360.5h0M302.6 429.9h0M459.8 293.3h0M391.6 323.2h0M475.9 378.0h0M298.0 352.8h0M412.3 450.5h0M326.6 256.5h0M399.0 357.1h0M435.0 346.2h0M432.2 367.0h0M436.6 316.7h0M385.7 270.6h0M388.5 474.1h0M442.4 379.7h0M293.3 323.4h0M334.8 339.3h0M338.4 189.5h0M357.6 366.9h0M480.5 356.8h0M324.3 289.9h0M341.3 485.0h0M359.7 450.6h0M300.5 468.2h0M441.9 314.3h0M501.9 449.0h0M385.5 366.0h0M324.0 436.2h0M487.6 296.2h0M412.0 372.0h0M229.4 405.7h0M500.6 327.7h0M407.2 478.6h0M291.0 308.1h0M307.9 362.4h0M516.9 203.7h0M431.7 246.2h0M387.6 375.3h0M491.3 312.8h0M440.6 275.7h0M279.2 328.2h0M352.8 353.8h0M344.0 317.4h0M545.5 270.7h0M403.4 322.4h0M333.2 377.5h0M348.8 369.7h0M416.1 440.6h0M474.6 241.4h0M344.0 317.0h0M373.1 476.3h0M347.4 392.3h0M460.5 334.8h0M351.9 336.1h0M478.9 360.9h0M419.8 387.6h0M453.3 302.7h0M476.6 398.5h0M572.8 252.8h0M409.9 326.8h0M443.4 331.5h0M396.0 340.7h0M433.1 425.9h0M358.3 291.5h0M323.7 293.6h0M403.2 364.1h0M314.9 393.7h0M495.5 283.6h0M449.4 226.5h0M326.3 352.7h0M510.6 374.4h0M454.5 225.0h0M340.3 355.9h0M445.6 380.5h0M425.8 347.9h0M351.4 395.7h0M344.4 306.6h0M414.9 237.9h0M368.6 431.2h0M511.4 367.6h0M347.2 268.5h0M371.3 249.6h0M393.3 303.4h0M442.9 463.1h0M301.5 369.2h0M327.1 234.1h0M462.1 307.4h0M384.8 350.1h0M409.2 401.5h0M444.4 336.7h0M372.3 297.5h0M407.4 381.2h0M401.5 423.4h0M447.6 280.4h0M349.9 445.0h0M313.6 459.4h0M323.7 281.6h0M355.6 284.1h0M402.7 394.6h0M475.9 337.8h0M389.7 243.5h0M446.4 432.5h0M256.6 266.5h0M439.2 447.8h0M470.0 386.4h0M435.0 482.9h0M368.6 362.2h0M429.4 468.7h0M374.3 338.4h0M433.4 255.0h0M405.9 336.2h0M383.4 203.4h0M478.5 274.7h0M360.7 420.3h0M428.7 312.6h0M547.4 331.5h0M361.4 485.6h0M383.7 338.3h0M442.5 381.4h0M324.3 359.3h0M255.3 310.3h0M308.4 488.5h0M413.5 393.4h0M504.3 376.9h0M340.6 316.9h0M350.7 359.3h0M359.5 374.2h0M446.5 390.5h0M541.7 269.5h0M344.2 365.8h0M298.4 316.8h0M317.9 356.7h0M255.6 417.8h0M361.0 403.9h0M406.7 230.0h0M381.1 289.5h0M397.3 437.2h0M409.2 312.8h0M286.3 262.4h0M281.7 302.3h0M596.7 275.9h0M329.7 322.5h0M383.4 497.0h0M296.8 317.0h0M318.5 332.7h0M433.4 406.1h0M367.7 372.5h0M337.6 311.5h0M384.1 253.9h0M308.8 356.6h0M407.7 376.7h0M316.7 406.0h0M275.6 315.5h0M305.5 303.9h0M343.5 357.1h0M435.0 338.3h0M360.3 466.0h0M404.3 305.4h0M338.9 307.8h0M359.7 333.1h0M311.5 370.5h0M497.1 293.1h0M325.1 330.3h0M435.9 283.5h0M369.0 401.4h0M543.3 299.8h0M442.6 320.6h0M410.0 405.8h0M372.8 398.8h0M362.5 257.3h0M442.8 303.3h0M356.9 336.3h0M415.9 362.2h0M331.0 450.1h0M336.6 354.3h0M420.6 336.3h0M433.8 361.2h0M421.0 385.0h0M388.5 327.0h0M418.6 402.4h0M383.9 384.8h0M558.7 286.7h0M433.7 314.0h0M428.2 334.0h0M324.5 354.5h0M421.5 335.8h0M311.8 373.4h0M461.2 388.6h0M356.8 313.9h0M448.2 380.5h0M323.5 395.3h0M436.0 319.2h0M414.6 357.4h0M263.8 324.4h0M522.4 378.1h0M446.6 404.2h0M373.0 296.9h0M333.6 392.0h0M320.7 352.9h0M370.7 504.5h0M421.7 394.9h0M377.0 260.0h0M465.0 310.4h0M527.5 325.6h0M355.9 460.0h0M298.0 267.6h0M318.5 257.8h0M340.3 372.3h0M484.1 330.7h0M503.2 335.7h0M364.2 249.2h0M426.5 296.3h0M480.9 388.1h0M405.5 329.3h0M365.8 434.6h0M389.6 342.7h0M424.7 373.6h0M377.4 480.5h0M401.0 217.8h0M358.3 359.4h0M380.5 316.4h0M408.4 381.2h0M477.6 392.3h0M388.5 395.2h0M386.0 364.9h0M329.4 230.9h0M509.8 379.8h0M345.4 338.3h0M534.4 350.1h0M380.1 353.3h0M331.3 256.5h0M343.8 189.6h0M370.2 340.9h0M449.3 336.4h0M440.7 407.9h0M413.7 400.9h0M486.9 305.3h0M362.0 384.3h0M444.9 320.8h0M356.1 403.5h0M425.1 323.6h0M442.7 317.4h0M397.9 317.1h0M245.5 341.9h0M370.8 284.9h0M318.4 254.7h0M373.2 382.9h0M328.3 380.4h0M495.4 301.2h0M357.2 417.0h0M415.7 337.1h0M397.5 338.7h0M331.0 313.5h0M279.1 441.8h0M353.8 380.3h0M452.4 232.7h0M372.0 386.9h0M347.9 312.3h0M443.0 408.6h0M411.0 281.7h0M353.1 390.4h0M364.9 290.9h0M337.6 218.6h0M353.3 302.3h0M316.9 430.0h0M392.8 270.8h0M312.4 418.4h0M371.0 321.3h0M436.6 418.5h0M338.3 377.3h0M326.0 314.9h0M448.4 280.9h0M383.3 368.5h0M453.5 302.7h0M392.0 304.0h0M457.4 421.7h0M363.7 434.2h0M364.4 242.8h0M372.9 272.6h0M359.4 333.1h0M327.1 283.0h0M433.4 397.8h0M310.7 384.6h0M370.5 331.2h0M349.6 413.6h0M438.6 278.7h0M472.6 408.0h0M413.7 365.1h0M470.9 388.3h0M381.8 319.5h0M431.9 391.6h0M492.0 304.4h0M428.5 325.8h0M393.6 335.8h0M359.8 420.1h0M501.6 362.3h0M433.3 319.3h0M429.4 317.1h0M412.5 413.0h0M409.2 275.5h0M439.7 448.6h0M372.0 302.6h0M513.7 353.6h0M524.2 317.8h0M390.5 298.8h0M382.4 423.2h0M339.8 238.1h0M444.7 254.6h0M359.4 246.9h0M414.2 309.5h0M392.3 347.8h0M302.1 389.3h0M349.8 207.6h0M412.8 278.2h0M288.6 416.0h0M376.5 238.0h0M359.7 357.2h0M379.2 415.4h0M534.6 372.8h0M448.6 381.6h0M395.1 380.2h0M367.7 306.1h0M328.2 341.0h0M442.2 270.5h0M347.7 313.1h0M348.8 236.4h0M307.9 474.8h0M407.0 318.1h0M355.4 357.1h0M415.1 452.1h0M499.3 387.2h0M310.6 370.8h0M360.6 339.3h0M263.9 324.5h0M397.2 402.4h0M324.4 261.9h0M256.3 261.1h0M405.6 380.5h0M332.2 313.0h0M435.3 322.3h0M494.8 329.4h0M396.0 279.8h0M348.6 290.7h0M429.9 412.0h0M409.1 323.3h0M463.8 306.0h0M429.0 307.1h0M414.6 439.5h0M368.6 279.0h0M420.3 313.1h0M477.8 339.3h0M451.7 300.7h0M435.8 351.7h0M403.2 253.9h0M351.6 310.3h0M393.8 331.6h0M407.4 450.2h0M221.2 306.5h0M406.7 208.6h0M354.0 332.7h0M378.7 557.9h0M383.6 385.9h0M399.1 380.4h0M451.6 320.1h0M411.5 395.7h0M330.1 431.9h0M312.5 343.4h0M380.1 365.9h0M348.5 325.0h0M468.6 413.4h0M332.7 279.0h0M419.7 295.9h0M355.2 244.6h0M397.9 333.1h0M367.9 346.0h0M345.0 453.9h0M312.2 325.9h0M403.7 308.4h0M332.1 318.2h0M358.0 343.9h0M464.9 369.1h0M381.8 375.5h0M485.2 350.5h0M495.5 215.0h0M372.7 423.0h0M461.4 340.7h0M440.5 392.2h0M396.8 330.4h0M215.6 373.3h0M418.3 456.7h0M373.3 360.1h0M452.7 342.2h0M410.8 367.3h0M355.8 282.7h0M371.3 345.5h0M376.9 469.9h0M411.4 257.5h0M430.6 285.1h0M521.8 422.5h0M343.7 300.0h0M458.2 322.1h0M425.7 349.1h0M404.8 288.3h0M493.3 355.4h0M361.6 358.9h0M302.1 406.7h0M449.1 407.9h0M393.8 386.9h0M313.5 269.5h0M420.3 380.4h0M473.0 301.3h0M412.8 281.1h0M398.1 275.2h0M390.5 288.0h0M465.4 423.4h0M460.6 388.2h0M330.6 305.0h0M446.8 251.7h0M308.0 326.8h0M383.9 337.3h0M417.2 373.5h0M416.7 261.0h0M441.1 361.2h0M414.8 325.6h0M273.2 332.7h0M355.0 336.2h0M354.6 314.9h0M435.8 393.2h0M434.8 236.1h0M347.1 342.6h0M407.0 445.2h0M415.8 378.8h0M451.7 436.2h0M404.9 287.2h0M365.9 269.7h0M328.3 320.1h0M373.6 323.0h0M415.9 297.5h0M427.2 376.2h0M558.8 391.5h0M394.7 287.4h0M374.5 360.7h0M339.5 396.5h0M412.5 322.4h0M276.2 267.3h0M325.3 371.7h0M402.6 391.7h0M501.8 466.9h0M499.0 321.4h0M431.5 265.8h0M349.4 325.4h0M334.7 360.5h0M375.5 396.0h0M374.1 398.7h0M455.2 324.7h0M432.4 341.4h0M342.5 456.2h0M337.2 365.4h0M296.7 364.0h0M471.1 342.7h0M409.7 317.3h0M482.6 290.2h0M417.1 360.5h0M436.0 384.5h0M367.3 310.1h0M247.6 423.9h0M281.6 341.3h0M469.7 417.4h0M358.6 355.2h0M342.8 286.9h0M393.7 471.0h0M367.4 384.2h0M412.9 407.4h0M369.3 294.4h0M407.3 342.2h0M296.8 324.5h0M441.1 258.2h0M316.5 365.4h0M452.2 441.8h0M498.2 198.3h0M390.8 264.0h0M398.0 379.9h0M431.7 375.3h0M381.4 459.9h0M468.1 226.9h0M356.4 367.0h0M386.1 347.7h0M397.5 301.2h0M431.6 400.1h0M445.6 288.9h0M459.2 330.6h0M394.1 394.6h0M303.0 357.3h0M424.6 301.2h0M407.9 427.4h0M428.7 397.6h0M373.2 303.5h0M383.2 408.0h0M354.5 439.7h0M399.2 358.8h0M450.4 281.7h0M379.6 329.9h0M300.0 368.8h0M345.4 439.0h0M422.2 325.8h0M470.0 258.3h0M485.2 346.3h0M358.9 380.7h0M309.4 299.0h0M394.6 310.8h0M397.3 390.7h0M329.5 439.1h0M525.0 390.7h0M389.8 344.0h0M353.0 374.9h0M433.3 378.6h0M374.9 440.8h0M351.1 388.9h0M440.2 408.5h0M355.4 351.2h0M330.5 342.2h0M368.0 398.5h0M339.3 305.9h0M404.8 400.2h0M330.5 337.3h0M389.1 391.6h0M429.3 334.8h0M402.8 382.5h0M334.8 411.6h0M446.2 281.6h0M408.7 404.6h0M400.2 296.8h0M409.1 242.6h0M419.7 305.8h0M366.9 379.0h0M419.7 382.9h0M314.0 367.5h0M339.6 428.1h0M420.8 361.5h0M310.6 339.0h0M445.9 364.0h0M420.3 266.2h0M382.5 347.0h0M385.8 245.9h0M492.1 286.1h0M358.8 339.1h0M528.2 431.4h0M421.8 321.9h0M452.0 398.5h0M386.8 260.1h0M534.1 358.6h0M313.8 454.0h0M433.2 453.3h0M444.8 274.8h0M383.8 359.0h0M396.5 345.0h0M511.0 345.0h0M275.1 377.8h0M351.1 492.7h0M334.6 355.7h0M400.3 290.8h0M287.3 409.5h0M386.2 322.0h0M386.8 320.5h0M393.0 488.4h0M459.0 392.5h0M454.3 214.1h0M451.8 384.6h0M354.9 396.2h0M351.3 296.6h0M355.0 368.3h0M325.1 377.0h0M354.7 349.2h0M400.5 432.6h0M379.7 297.2h0M504.8 393.8h0M423.5 189.1h0M426.4 377.5h0M471.8 337.3h0M437.9 295.8h0M422.9 365.4h0M451.0 374.8h0M467.4 286.9h0M416.2 349.2h0M352.3 333.4h0M407.4 280.5h0M465.9 251.1h0M498.7 426.5h0M268.4 338.8h0M537.8 400.0h0M414.7 401.1h0M424.5 301.3h0M366.3 251.0h0M437.9 381.9h0M505.8 423.5h0M404.5 254.1h0M440.8 338.1h0M278.0 291.7h0M430.3 325.4h0M504.8 383.6h0M371.7 290.9h0M436.2 339.0h0M428.0 392.1h0M450.3 405.9h0M298.1 299.5h0M489.4 251.7h0M439.2 385.0h0M368.8 349.3h0M330.8 329.8h0M370.1 398.2h0M528.0 401.4h0M367.7 381.7h0M395.4 316.1h0M426.5 271.9h0M374.9 326.4h0M387.4 254.3h0M377.9 355.5h0M357.7 347.2h0M463.9 413.6h0M405.2 362.0h0M386.5 317.4h0M301.6 353.1h0M443.5 379.1h0M474.9 321.6h0M392.5 264.6h0M432.7 384.5h0M459.0 288.5h0M399.1 311.2h0M359.7 408.1h0M439.6 246.5h0M401.3 265.1h0M468.0 388.6h0M467.8 332.5h0M393.9 368.7h0M416.2 398.6h0M385.6 384.4h0M446.3 334.7h0M380.1 281.6h0M469.7 391.0h0M321.4 284.3h0M413.9 347.5h0M407.9 425.9h0M381.8 368.4h0M249.8 517.7h0M460.2 321.2h0M453.1 401.0h0M432.0 316.3h0M559.8 376.6h0M253.1 371.2h0M401.0 276.0h0M519.9 252.5h0M415.3 260.7h0M400.9 371.2h0M214.4 342.9h0M328.5 242.6h0M342.5 248.6h0M469.0 404.7h0M403.6 425.7h0M296.5 380.2h0M294.6 393.4h0M442.2 340.2h0M399.0 247.7h0M434.2 338.6h0M464.3 282.3h0M393.0 379.9h0M396.6 250.7h0M462.9 250.8h0M504.5 392.5h0M387.0 256.3h0M447.8 257.2h0M337.5 406.8h0M463.1 294.6h0M444.7 339.8h0M362.6 257.3h0M477.4 295.3h0M404.2 381.4h0M415.4 308.5h0M392.3 328.7h0M412.6 330.4h0M333.8 424.1h0M380.4 305.8h0M372.3 312.2h0M422.8 264.5h0M440.3 314.7h0M322.5 316.0h0M527.0 350.9h0M411.2 403.2h0M412.8 287.6h0M477.1 447.6h0M363.4 352.0h0M453.1 316.7h0M312.2 306.1h0M493.3 233.8h0M431.3 330.6h0M413.2 299.0h0M483.4 385.7h0M280.7 392.0h0M310.7 376.8h0M244.0 316.7h0M362.8 308.5h0M462.6 314.0h0M379.3 307.2h0M272.8 405.9h0M387.0 372.7h0M390.7 400.6h0M292.2 273.5h0M468.0 307.2h0M331.5 331.5h0M465.0 408.5h0M378.4 252.8h0M357.7 217.0h0M412.4 300.2h0M416.8 285.6h0M516.6 338.5h0M372.8 331.8h0M392.4 281.6h0M432.1 359.1h0M387.9 323.1h0M476.8 254.4h0M444.2 344.3h0M336.2 360.0h0M392.4 304.9h0M450.6 342.2h0M401.4 322.2h0M334.3 445.4h0M408.8 414.0h0M363.9 417.7h0M439.1 366.3h0M403.8 400.0h0M308.3 367.3h0M356.4 262.9h0M378.1 327.4h0M443.9 360.4h0M396.0 317.3h0M429.6 365.0h0M263.2 277.3h0M282.0 249.8h0M444.9 256.2h0M317.5 340.6h0M326.8 358.9h0M330.8 299.2h0M431.5 270.1h0M361.0 295.8h0M415.9 246.4h0M405.6 262.2h0M354.3 240.8h0M402.7 445.2h0M327.5 354.5h0M412.2 429.7h0M512.0 282.1h0M366.4 363.3h0M419.9 330.6h0M350.6 355.7h0M542.8 326.6h0M470.8 173.1h0M363.9 357.1h0M336.5 426.7h0M403.6 340.6h0M526.2 261.8h0M415.0 361.5h0M332.5 382.3h0M347.9 391.8h0M321.1 269.3h0M332.0 239.7h0M395.6 352.1h0M401.8 309.7h0M446.3 371.9h0M337.8 366.0h0M411.8 309.3h0M451.0 263.5h0M267.8 291.7h0M377.9 425.4h0M429.6 378.1h0M398.8 391.7h0M514.7 254.5h0M281.0 360.2h0M387.2 322.1h0M390.2 339.5h0M398.5 317.8h0M449.9 558.8h0M309.0 357.4h0M391.0 372.0h0M334.4 348.2h0M373.0 275.5h0M435.1 358.5h0M390.3 287.0h0M469.8 326.3h0M345.1 265.4h0M416.0 376.1h0M267.1 301.3h0M357.7 509.0h0M443.7 322.3h0M333.7 405.8h0M467.4 404.5h0M282.4 397.2h0M315.2 337.9h0M385.3 341.7h0M408.0 362.9h0M373.8 267.4h0M329.6 306.0h0M287.7 343.6h0M464.8 337.3h0M340.0 414.0h0M372.1 322.6h0M420.8 334.0h0M278.1 311.9h0M428.9 389.9h0M367.5 301.3h0M412.5 426.1h0M362.8 384.0h0M445.7 340.5h0M350.9 282.0h0M495.1 400.9h0M412.1 405.4h0M450.4 294.9h0M405.8 206.2h0M396.8 367.1h0M399.4 389.2h0M282.9 277.5h0M405.8 306.7h0M264.0 306.0h0M410.6 273.2h0M445.1 317.2h0M407.7 402.9h0M393.9 310.2h0M394.6 346.3h0M304.1 469.4h0M439.5 368.9h0M439.8 329.6h0M382.9 400.9h0M400.3 320.1h0M452.7 420.5h0M370.1 210.2h0M472.8 372.3h0M443.8 312.2h0M405.5 289.1h0M399.2 328.8h0M330.5 372.6h0M476.5 351.2h0M436.0 353.3h0M348.7 351.3h0M349.2 312.7h0M401.9 399.9h0M351.3 442.8h0M310.5 321.2h0M451.8 338.8h0M446.2 321.6h0M316.3 277.2h0M414.7 328.8h0M479.5 408.0h0M338.7 333.7h0M394.8 421.4h0M368.3 416.0h0M429.6 320.5h0M310.9 319.9h0M315.4 422.2h0M503.7 293.9h0M386.7 365.3h0M334.9 373.1h0M382.4 343.1h0M351.8 235.3h0M428.7 382.2h0M366.2 390.3h0M425.3 272.2h0M375.8 266.5h0M475.6 318.9h0M302.9 346.8h0M357.1 274.6h0M419.5 343.0h0M436.3 324.1h0M298.4 364.3h0M421.9 396.9h0M473.0 247.8h0M377.5 312.8h0M392.3 371.1h0M405.3 342.7h0M323.1 340.0h0M386.9 263.6h0M336.5 372.4h0M458.4 251.8h0M367.1 217.3h0M390.8 421.9h0M480.0 409.2h0M424.7 420.5h0M364.6 259.5h0M405.7 368.9h0M381.1 357.2h0M351.4 423.0h0M424.9 472.2h0M389.4 301.5h0M429.3 292.6h0M517.5 324.6h0M359.2 392.8h0M460.8 413.4h0M502.0 419.9h0M436.5 296.4h0M319.8 319.5h0M309.3 304.4h0M458.0 354.6h0M449.2 401.0h0M356.9 410.7h0M403.3 341.7h0M300.3 249.6h0M525.4 214.5h0M378.0 240.0h0M429.9 421.1h0M371.9 441.4h0M377.1 220.0h0M526.2 405.8h0M495.4 451.3h0M377.0 385.1h0M326.6 249.8h0M406.6 265.6h0M421.4 307.7h0M346.7 409.0h0M456.5 398.6h0M405.6 313.7h0M405.6 387.4h0M392.2 420.9h0M410.9 311.9h0M481.9 247.3h0M463.4 383.6h0M306.7 315.1h0M419.8 410.7h0M467.2 313.5h0M372.9 230.2h0M534.7 407.8h0M402.1 175.6h0M266.5 375.1h0M373.7 368.6h0M418.3 430.0h0M352.0 285.7h0M377.4 347.7h0M409.3 294.8h0M436.3 356.1h0M500.6 372.0h0M441.6 222.7h0M303.9 354.3h0M370.5 391.0h0M363.5 391.9h0M396.2 360.5h0M227.5 301.1h0M376.3 345.5h0M447.5 381.6h0M375.1 383.8h0M358.2 316.0h0M434.9 286.4h0M292.7 280.2h0M452.2 374.8h0M399.3 303.0h0M461.5 404.0h0M292.0 328.6h0M420.8 408.3h0M486.0 367.9h0M431.5 393.6h0M308.0 211.2h0M292.7 306.7h0M389.4 213.4h0M367.8 257.5h0M325.0 355.9h0M401.4 418.2h0M430.7 318.9h0M433.0 320.9h0M452.1 305.9h0M363.2 408.5h0M528.1 338.8h0M376.1 383.7h0M467.5 295.4h0M469.5 398.5h0M351.7 292.9h0M396.5 402.4h0M360.7 395.8h0M396.8 407.8h0M402.0 252.5h0M481.8 235.0h0M500.5 374.3h0M338.0 365.9h0M399.4 238.0h0M383.7 262.3h0M357.2 423.7h0M469.9 386.0h0M365.0 249.3h0M450.0 265.9h0M403.9 337.0h0M293.2 454.6h0M453.8 419.3h0M390.2 284.1h0M349.1 345.6h0M371.0 257.3h0M435.3 315.5h0M367.4 393.9h0M362.9 340.7h0M326.6 304.6h0M373.9 359.9h0M367.2 372.4h0M441.8 302.6h0M349.1 221.5h0M402.4 390.4h0M342.7 287.7h0M375.1 316.3h0M387.3 361.5h0M497.6 379.5h0M348.5 444.0h0M461.9 326.7h0M440.9 366.7h0M363.7 262.0h0M409.7 358.2h0M420.3 249.2h0M384.1 324.5h0M391.3 363.9h0M401.9 341.8h0M346.5 285.7h0M293.2 390.2h0M414.7 381.2h0M612.3 334.9h0M476.7 440.9h0M345.3 332.9h0M563.0 374.3h0M318.2 373.3h0M399.7 294.0h0M457.6 410.0h0M358.8 342.1h0M286.2 471.9h0M438.1 349.1h0M419.8 356.0h0M384.9 323.9h0M329.3 299.7h0M276.5 298.6h0M485.6 313.4h0M437.2 423.7h0M350.1 303.1h0M505.2 420.7h0M392.2 379.6h0M412.1 357.8h0M314.0 334.2h0M529.8 363.0h0M429.7 394.5h0M408.3 347.5h0M523.8 351.2h0M433.6 324.6h0M299.7 295.3h0M418.6 414.2h0M475.9 298.9h0M439.3 474.3h0M556.6 244.0h0M481.5 400.6h0M401.2 263.6h0M425.1 352.1h0M298.4 277.0h0M436.7 238.1h0M410.0 426.2h0M276.2 335.1h0M382.7 276.0h0M398.2 323.7h0M453.1 350.1h0M408.1 373.8h0M488.3 261.7h0M451.8 404.5h0M401.8 387.9h0M481.1 329.6h0M349.5 329.2h0M402.7 337.4h0M436.6 338.9h0M379.6 310.6h0M387.5 208.5h0M318.4 280.1h0M361.8 360.8h0M447.6 355.4h0M479.8 351.1h0M436.9 222.4h0M405.4 313.1h0M349.6 359.0h0M424.5 409.5h0M374.2 320.6h0M409.5 311.6h0M422.4 296.1h0M445.8 269.9h0M425.8 414.5h0M442.4 407.1h0M401.6 404.3h0M453.9 338.1h0M359.8 454.1h0M301.5 291.4h0M420.0 348.4h0M380.4 343.3h0M458.7 310.4h0M426.6 266.5h0M434.8 422.1h0M316.6 358.9h0M406.5 365.8h0M468.7 261.9h0M426.6 454.8h0M422.5 445.6h0M410.6 321.1h0M396.9 224.8h0M329.4 375.6h0M525.8 318.8h0M298.4 504.4h0M414.7 397.5h0M368.0 362.3h0M482.1 349.1h0M334.2 456.0h0M452.2 317.6h0M425.1 257.4h0M323.3 244.9h0M284.5 311.7h0M332.2 421.5h0M476.6 319.0h0M429.0 413.9h0M383.2 317.8h0M389.7 216.3h0M393.5 316.6h0M424.6 503.2h0M396.0 317.0h0M399.7 387.0h0M421.9 226.8h0M344.4 436.8h0M460.3 367.8h0M409.3 318.1h0M354.2 305.6h0M391.8 399.6h0M461.5 360.5h0M410.8 272.3h0M261.9 332.6h0M457.9 325.9h0M399.8 353.0h0M427.5 349.7h0M495.5 461.5h0M429.7 310.7h0M422.0 413.3h0M358.0 284.4h0M389.2 281.8h0M296.6 315.5h0M465.2 330.7h0M469.4 362.7h0M358.9 324.3h0M453.0 349.1h0M332.1 308.4h0M319.1 350.0h0M429.2 405.7h0M521.1 374.8h0M472.0 448.4h0M456.5 366.1h0M416.3 447.1h0M468.9 382.6h0M438.6 225.9h0M278.0 350.8h0M451.9 364.2h0M447.2 494.8h0M339.1 258.5h0M346.9 288.8h0M306.2 253.0h0M248.0 293.3h0M361.6 360.7h0M393.5 366.8h0M436.4 402.9h0M305.2 386.3h0M329.0 414.0h0M272.0 363.5h0M418.9 372.0h0M327.2 325.4h0M455.2 290.6h0M321.2 255.4h0M334.6 310.4h0M441.1 332.7h0M460.4 260.5h0M356.0 301.8h0M441.0 423.6h0M387.4 269.1h0M337.9 313.6h0M500.5 406.2h0M347.3 329.1h0M441.3 468.3h0M402.9 445.1h0M433.5 268.3h0M433.3 322.3h0M390.4 331.4h0M388.3 360.5h0M459.2 347.0h0M393.6 280.5h0M430.7 306.0h0M489.0 371.9h0M317.0 300.2h0M452.2 419.0h0M519.8 323.9h0M553.7 358.1h0M400.7 366.5h0M398.3 341.5h0M344.8 449.3h0M346.2 421.9h0M432.8 410.9h0M471.1 382.6h0M327.1 375.9h0M361.5 306.5h0M479.3 358.6h0M400.2 270.1h0M467.4 374.7h0M429.0 297.1h0M382.7 382.6h0M410.0 350.3h0M364.9 315.1h0M276.2 259.6h0M333.1 283.2h0M357.3 285.2h0M435.5 282.6h0M421.9 362.6h0M459.8 359.8h0M338.4 265.9h0M354.0 294.8h0M373.6 353.6h0M291.7 310.1h0M415.1 337.3h0M293.8 437.7h0M404.6 364.5h0M390.9 324.4h0M370.1 272.3h0M526.6 298.7h0M413.9 310.5h0M465.1 284.8h0M289.7 433.9h0M417.0 327.2h0M398.8 435.5h0M352.0 281.3h0M373.3 362.6h0M289.4 409.7h0M429.7 372.8h0M345.7 258.0h0M383.2 394.6h0M313.2 214.4h0M374.0 414.7h0M480.8 352.6h0M253.2 342.7h0M316.5 358.9h0M371.6 335.8h0M499.0 298.9h0M388.0 331.5h0M447.5 393.8h0M435.8 367.8h0M402.9 398.1h0M406.5 395.2h0M503.1 349.0h0M379.6 341.2h0M391.6 364.2h0M406.3 324.5h0M397.8 306.8h0M327.3 342.6h0M307.8 348.0h0M393.2 429.8h0M391.2 396.7h0M346.5 309.4h0M306.4 268.2h0M270.2 250.3h0M374.4 227.4h0M299.7 430.8h0M333.8 256.2h0M354.5 360.7h0M474.4 353.7h0M461.6 351.1h0M506.3 326.4h0M360.4 402.4h0M467.2 478.2h0M397.3 291.9h0M332.5 352.3h0M339.0 311.7h0M297.8 290.4h0M369.8 399.3h0M350.8 232.3h0M322.2 360.6h0M367.9 402.0h0M450.3 152.7h0M467.6 269.4h0M266.5 475.7h0M421.2 287.4h0M437.3 398.7h0M312.6 444.1h0M384.2 267.8h0M434.7 349.3h0M444.8 173.4h0M348.0 453.5h0M378.9 236.2h0M443.8 337.9h0M345.4 536.2h0M451.5 362.2h0M413.2 347.5h0M417.4 338.5h0M354.0 337.6h0M317.0 331.2h0M491.4 333.7h0M391.4 344.3h0M326.0 269.1h0M467.3 333.8h0M382.0 320.0h0M365.8 390.5h0M447.6 350.0h0M355.2 314.6h0M457.4 307.9h0M290.0 297.4h0M465.1 335.0h0M433.9 328.3h0M434.0 411.9h0M284.4 383.6h0M280.5 431.9h0M326.5 320.8h0M321.6 332.2h0M364.8 254.7h0M432.8 365.1h0M483.2 359.5h0M343.1 294.6h0M414.8 302.0h0M439.7 279.0h0M395.3 306.5h0M529.0 424.3h0M429.1 430.5h0M427.6 406.6h0M365.4 393.1h0M396.6 343.5h0M402.5 275.4h0M434.6 433.9h0M328.5 298.0h0M471.6 347.5h0" stroke="#ff0000" stroke-width="5.0" stroke-linecap="round" fill="none"/><line x1="96.85" y1="562.2" x2="655.5" y2="151.6" stroke="#000" stroke-width="3.0"/></g><line clip-path="url(#cd)" x1="96.49" y1="28.68" x2="512.62" y2="624.53" stroke="#000" stroke-width="5.6" stroke-dasharray="13.4 13.34" stroke-dashoffset="7.74"/><rect x="96.85" y="51.0" width="558.65" height="559.00" fill="none" stroke="#000" stroke-width="1.2"/><path d="M96.85 610.0v-5.6M96.85 51.0v5.6M127.89 610.0v-5.6M127.89 51.0v5.6M158.92 610.0v-9.5M158.92 51.0v9.5M189.96 610.0v-5.6M189.96 51.0v5.6M220.99 610.0v-5.6M220.99 51.0v5.6M252.03 610.0v-5.6M252.03 51.0v5.6M283.07 610.0v-9.5M283.07 51.0v9.5M314.10 610.0v-5.6M314.10 51.0v5.6M345.14 610.0v-5.6M345.14 51.0v5.6M376.17 610.0v-5.6M376.17 51.0v5.6M407.21 610.0v-9.5M407.21 51.0v9.5M438.25 610.0v-5.6M438.25 51.0v5.6M469.28 610.0v-5.6M469.28 51.0v5.6M500.32 610.0v-5.6M500.32 51.0v5.6M531.36 610.0v-9.5M531.36 51.0v9.5M562.39 610.0v-5.6M562.39 51.0v5.6M593.43 610.0v-5.6M593.43 51.0v5.6M624.46 610.0v-5.6M624.46 51.0v5.6M655.50 610.0v-9.5M655.50 51.0v9.5M96.85 610.00h5.6M655.5 610.00h-5.6M96.85 578.94h5.6M655.5 578.94h-5.6M96.85 547.89h9.5M655.5 547.89h-9.5M96.85 516.83h5.6M655.5 516.83h-5.6M96.85 485.78h5.6M655.5 485.78h-5.6M96.85 454.72h5.6M655.5 454.72h-5.6M96.85 423.67h9.5M655.5 423.67h-9.5M96.85 392.61h5.6M655.5 392.61h-5.6M96.85 361.56h5.6M655.5 361.56h-5.6M96.85 330.50h5.6M655.5 330.50h-5.6M96.85 299.44h9.5M655.5 299.44h-9.5M96.85 268.39h5.6M655.5 268.39h-5.6M96.85 237.33h5.6M655.5 237.33h-5.6M96.85 206.28h5.6M655.5 206.28h-5.6M96.85 175.22h9.5M655.5 175.22h-9.5M96.85 144.17h5.6M655.5 144.17h-5.6M96.85 113.11h5.6M655.5 113.11h-5.6M96.85 82.06h5.6M655.5 82.06h-5.6M96.85 51.00h9.5M655.5 51.00h-9.5" stroke="#000" stroke-width="1.0" fill="none"/><g clip-path="url(#cr)"><path d="M818.48 591.15V582.66H831.49V591.15ZM831.49 591.15V579.83H844.50V591.15ZM844.50 591.15V568.52H857.52V591.15ZM857.52 591.15V579.83H870.53V591.15ZM870.53 591.15V534.57H883.54V591.15ZM883.54 591.15V528.91H896.55V591.15ZM896.55 591.15V466.67H909.56V591.15ZM909.56 591.15V449.70H922.58V591.15ZM922.58 591.15V410.09H935.59V591.15ZM935.59 591.15V271.47H948.60V591.15ZM948.60 591.15V268.64H961.61V591.15ZM961.61 591.15V200.75H974.62V591.15ZM974.62 591.15V229.04H987.64V591.15ZM987.64 591.15V155.48H1000.65V591.15ZM1000.65 591.15V76.27H1013.66V591.15ZM1013.66 591.15V141.34H1026.67V591.15ZM1026.67 591.15V166.80H1039.68V591.15ZM1039.68 591.15V217.72H1052.70V591.15ZM1052.70 591.15V271.47H1065.71V591.15ZM1065.71 591.15V336.54H1078.72V591.15ZM1078.72 591.15V302.59H1091.73V591.15ZM1091.73 591.15V438.38H1104.74V591.15ZM1104.74 591.15V466.67H1117.76V591.15ZM1117.76 591.15V492.13H1130.77V591.15ZM1130.77 591.15V523.25H1143.78V591.15ZM1143.78 591.15V531.74H1156.79V591.15ZM1156.79 591.15V560.03H1169.80V591.15ZM1169.80 591.15V577.00H1182.82V591.15ZM1182.82 591.15V577.00H1195.83V591.15ZM1195.83 591.15V585.49H1208.84V591.15ZM1208.84 591.15V585.49H1221.85V591.15ZM1221.85 591.15V588.32H1234.86V591.15ZM1234.86 591.15V588.32H1247.88V591.15ZM1260.89 591.15V588.32H1273.90V591.15Z" fill="#0000ff" fill-opacity="0.5" stroke="#000" stroke-opacity="0.5" stroke-width="1.35"/><path d="M909.56 591.15V588.32H922.58V591.15ZM935.59 591.15V582.66H948.60V591.15ZM948.60 591.15V585.49H961.61V591.15ZM961.61 591.15V571.35H974.62V591.15ZM974.62 591.15V562.86H987.64V591.15ZM987.64 591.15V568.52H1000.65V591.15ZM1000.65 591.15V543.06H1013.66V591.15ZM1013.66 591.15V531.74H1026.67V591.15ZM1026.67 591.15V500.62H1039.68V591.15ZM1039.68 591.15V446.87H1052.70V591.15ZM1052.70 591.15V427.07H1065.71V591.15ZM1065.71 591.15V350.68H1078.72V591.15ZM1078.72 591.15V296.93H1091.73V591.15ZM1091.73 591.15V246.01H1104.74V591.15ZM1104.74 591.15V223.38H1117.76V591.15ZM1117.76 591.15V101.73H1130.77V591.15ZM1130.77 591.15V180.94H1143.78V591.15ZM1143.78 591.15V121.54H1156.79V591.15ZM1156.79 591.15V163.97H1169.80V591.15ZM1169.80 591.15V180.94H1182.82V591.15ZM1182.82 591.15V212.06H1195.83V591.15ZM1195.83 591.15V265.81H1208.84V591.15ZM1208.84 591.15V333.71H1221.85V591.15ZM1221.85 591.15V401.61H1234.86V591.15ZM1234.86 591.15V455.36H1247.88V591.15ZM1247.88 591.15V486.48H1260.89V591.15ZM1260.89 591.15V503.45H1273.90V591.15ZM1273.90 591.15V543.06H1286.91V591.15ZM1286.91 591.15V571.35H1299.92V591.15ZM1299.92 591.15V565.69H1312.94V591.15ZM1312.94 591.15V574.18H1325.95V591.15ZM1325.95 591.15V579.83H1338.96V591.15ZM1338.96 591.15V588.32H1351.97V591.15ZM1351.97 591.15V585.49H1364.98V591.15Z" fill="#ff0000" fill-opacity="0.5" stroke="#000" stroke-opacity="0.5" stroke-width="1.35"/><line x1="1078.8" y1="591.15" x2="1078.8" y2="53.3" stroke="#000" stroke-width="4.9" stroke-dasharray="13.4 13.34"/></g><rect x="807.7" y="49.3" width="541.75" height="541.85" fill="none" stroke="#000" stroke-width="1.2"/><path d="M818.48 591.15v-9.5M818.48 49.3v9.5M851.01 591.15v-5.6M851.01 49.3v5.6M883.54 591.15v-5.6M883.54 49.3v5.6M916.07 591.15v-5.6M916.07 49.3v5.6M948.60 591.15v-9.5M948.60 49.3v9.5M981.13 591.15v-5.6M981.13 49.3v5.6M1013.66 591.15v-5.6M1013.66 49.3v5.6M1046.19 591.15v-5.6M1046.19 49.3v5.6M1078.72 591.15v-9.5M1078.72 49.3v9.5M1111.25 591.15v-5.6M1111.25 49.3v5.6M1143.78 591.15v-5.6M1143.78 49.3v5.6M1176.31 591.15v-5.6M1176.31 49.3v5.6M1208.84 591.15v-9.5M1208.84 49.3v9.5M1241.37 591.15v-5.6M1241.37 49.3v5.6M1273.90 591.15v-5.6M1273.90 49.3v5.6M1306.43 591.15v-5.6M1306.43 49.3v5.6M1338.96 591.15v-9.5M1338.96 49.3v9.5M807.7 591.15h9.5M1349.45 591.15h-9.5M807.7 562.86h5.6M1349.45 562.86h-5.6M807.7 534.57h5.6M1349.45 534.57h-5.6M807.7 506.28h5.6M1349.45 506.28h-5.6M807.7 477.99h9.5M1349.45 477.99h-9.5M807.7 449.70h5.6M1349.45 449.70h-5.6M807.7 421.41h5.6M1349.45 421.41h-5.6M807.7 393.12h5.6M1349.45 393.12h-5.6M807.7 364.83h9.5M1349.45 364.83h-9.5M807.7 336.54h5.6M1349.45 336.54h-5.6M807.7 308.25h5.6M1349.45 308.25h-5.6M807.7 279.96h5.6M1349.45 279.96h-5.6M807.7 251.67h9.5M1349.45 251.67h-9.5M807.7 223.38h5.6M1349.45 223.38h-5.6M807.7 195.09h5.6M1349.45 195.09h-5.6M807.7 166.80h5.6M1349.45 166.80h-5.6M807.7 138.51h9.5M1349.45 138.51h-9.5M807.7 110.22h5.6M1349.45 110.22h-5.6M807.7 81.93h5.6M1349.45 81.93h-5.6M807.7 53.64h5.6M1349.45 53.64h-5.6" stroke="#000" stroke-width="1.0" fill="none"/><text transform="translate(376.50 27.00) scale(1.0 1.0)" font-size="36" text-anchor="middle">Single−Shot Readout in IQ−Plane</text><text transform="translate(1078.30 41.30) scale(1.0 1.0)" font-size="36" text-anchor="middle">Projected Distributions</text><text transform="translate(86.40 558.29) scale(1.0 1.035)" font-size="30" text-anchor="end">−2</text><text transform="translate(86.40 434.07) scale(1.0 1.035)" font-size="30" text-anchor="end">0</text><text transform="translate(86.40 309.84) scale(1.0 1.035)" font-size="30" text-anchor="end">2</text><text transform="translate(86.40 185.62) scale(1.0 1.035)" font-size="30" text-anchor="end">4</text><text transform="translate(86.40 61.40) scale(1.0 1.035)" font-size="30" text-anchor="end">6</text><text transform="translate(158.92 647.70) scale(1.0 1.035)" font-size="30" text-anchor="middle">−2</text><text transform="translate(283.07 647.70) scale(1.0 1.035)" font-size="30" text-anchor="middle">0</text><text transform="translate(407.21 647.70) scale(1.0 1.035)" font-size="30" text-anchor="middle">2</text><text transform="translate(531.36 647.70) scale(1.0 1.035)" font-size="30" text-anchor="middle">4</text><text transform="translate(655.50 647.70) scale(1.0 1.035)" font-size="30" text-anchor="middle">6</text><text transform="translate(376.00 704.90) scale(1.0 1.035)" font-size="30" text-anchor="middle">I [a.u.]</text><text transform="translate(21.80 330.30) rotate(-90) scale(1.0 1.035)" font-size="30" text-anchor="middle">Q [a.u.]</text><text transform="translate(797.60 601.95) scale(1.0 1.035)" font-size="30" text-anchor="end">0.00</text><text transform="translate(797.60 488.79) scale(1.0 1.035)" font-size="30" text-anchor="end">0.02</text><text transform="translate(797.60 375.63) scale(1.0 1.035)" font-size="30" text-anchor="end">0.04</text><text transform="translate(797.60 262.47) scale(1.0 1.035)" font-size="30" text-anchor="end">0.06</text><text transform="translate(797.60 149.31) scale(1.0 1.035)" font-size="30" text-anchor="end">0.08</text><text transform="translate(818.48 628.60) scale(1.0 1.035)" font-size="30" text-anchor="middle">−4</text><text transform="translate(948.60 628.60) scale(1.0 1.035)" font-size="30" text-anchor="middle">−2</text><text transform="translate(1078.72 628.60) scale(1.0 1.035)" font-size="30" text-anchor="middle">0</text><text transform="translate(1208.84 628.60) scale(1.0 1.035)" font-size="30" text-anchor="middle">2</text><text transform="translate(1338.96 628.60) scale(1.0 1.035)" font-size="30" text-anchor="middle">4</text><text transform="translate(1079.00 686.70) scale(1.0 1.035)" font-size="30" text-anchor="middle">Projection Coordinate</text><text transform="translate(708.80 319.40) rotate(-90) scale(1.0 1.035)" font-size="30" text-anchor="middle">Probability</text><circle cx="316.25" cy="107.5" r="8.6" fill="#0000ff"/><circle cx="432.6" cy="107.5" r="8.6" fill="#ff0000"/><path d="M352.75 95h3.05v30.8h-3.05zM469.1 95h2.95v30.8h-2.95zM484.1 95h3.5v23.9h-3.5z" fill="#000"/><path d="M485.6 95.6C484.2 98.8 481.6 100.8 478.2 102.4" stroke="#000" stroke-width="3.0" fill="none"/><text transform="translate(358.20 119.60) scale(1.03 1.058)" font-size="33" text-anchor="start">0</text><path d="M379.7 96.8L386.4 109.2L379.7 121.6M495.9 96.8L502.6 109.2L495.9 121.6" stroke="#000" stroke-width="2.0" fill="none"/></svg></body></html>
